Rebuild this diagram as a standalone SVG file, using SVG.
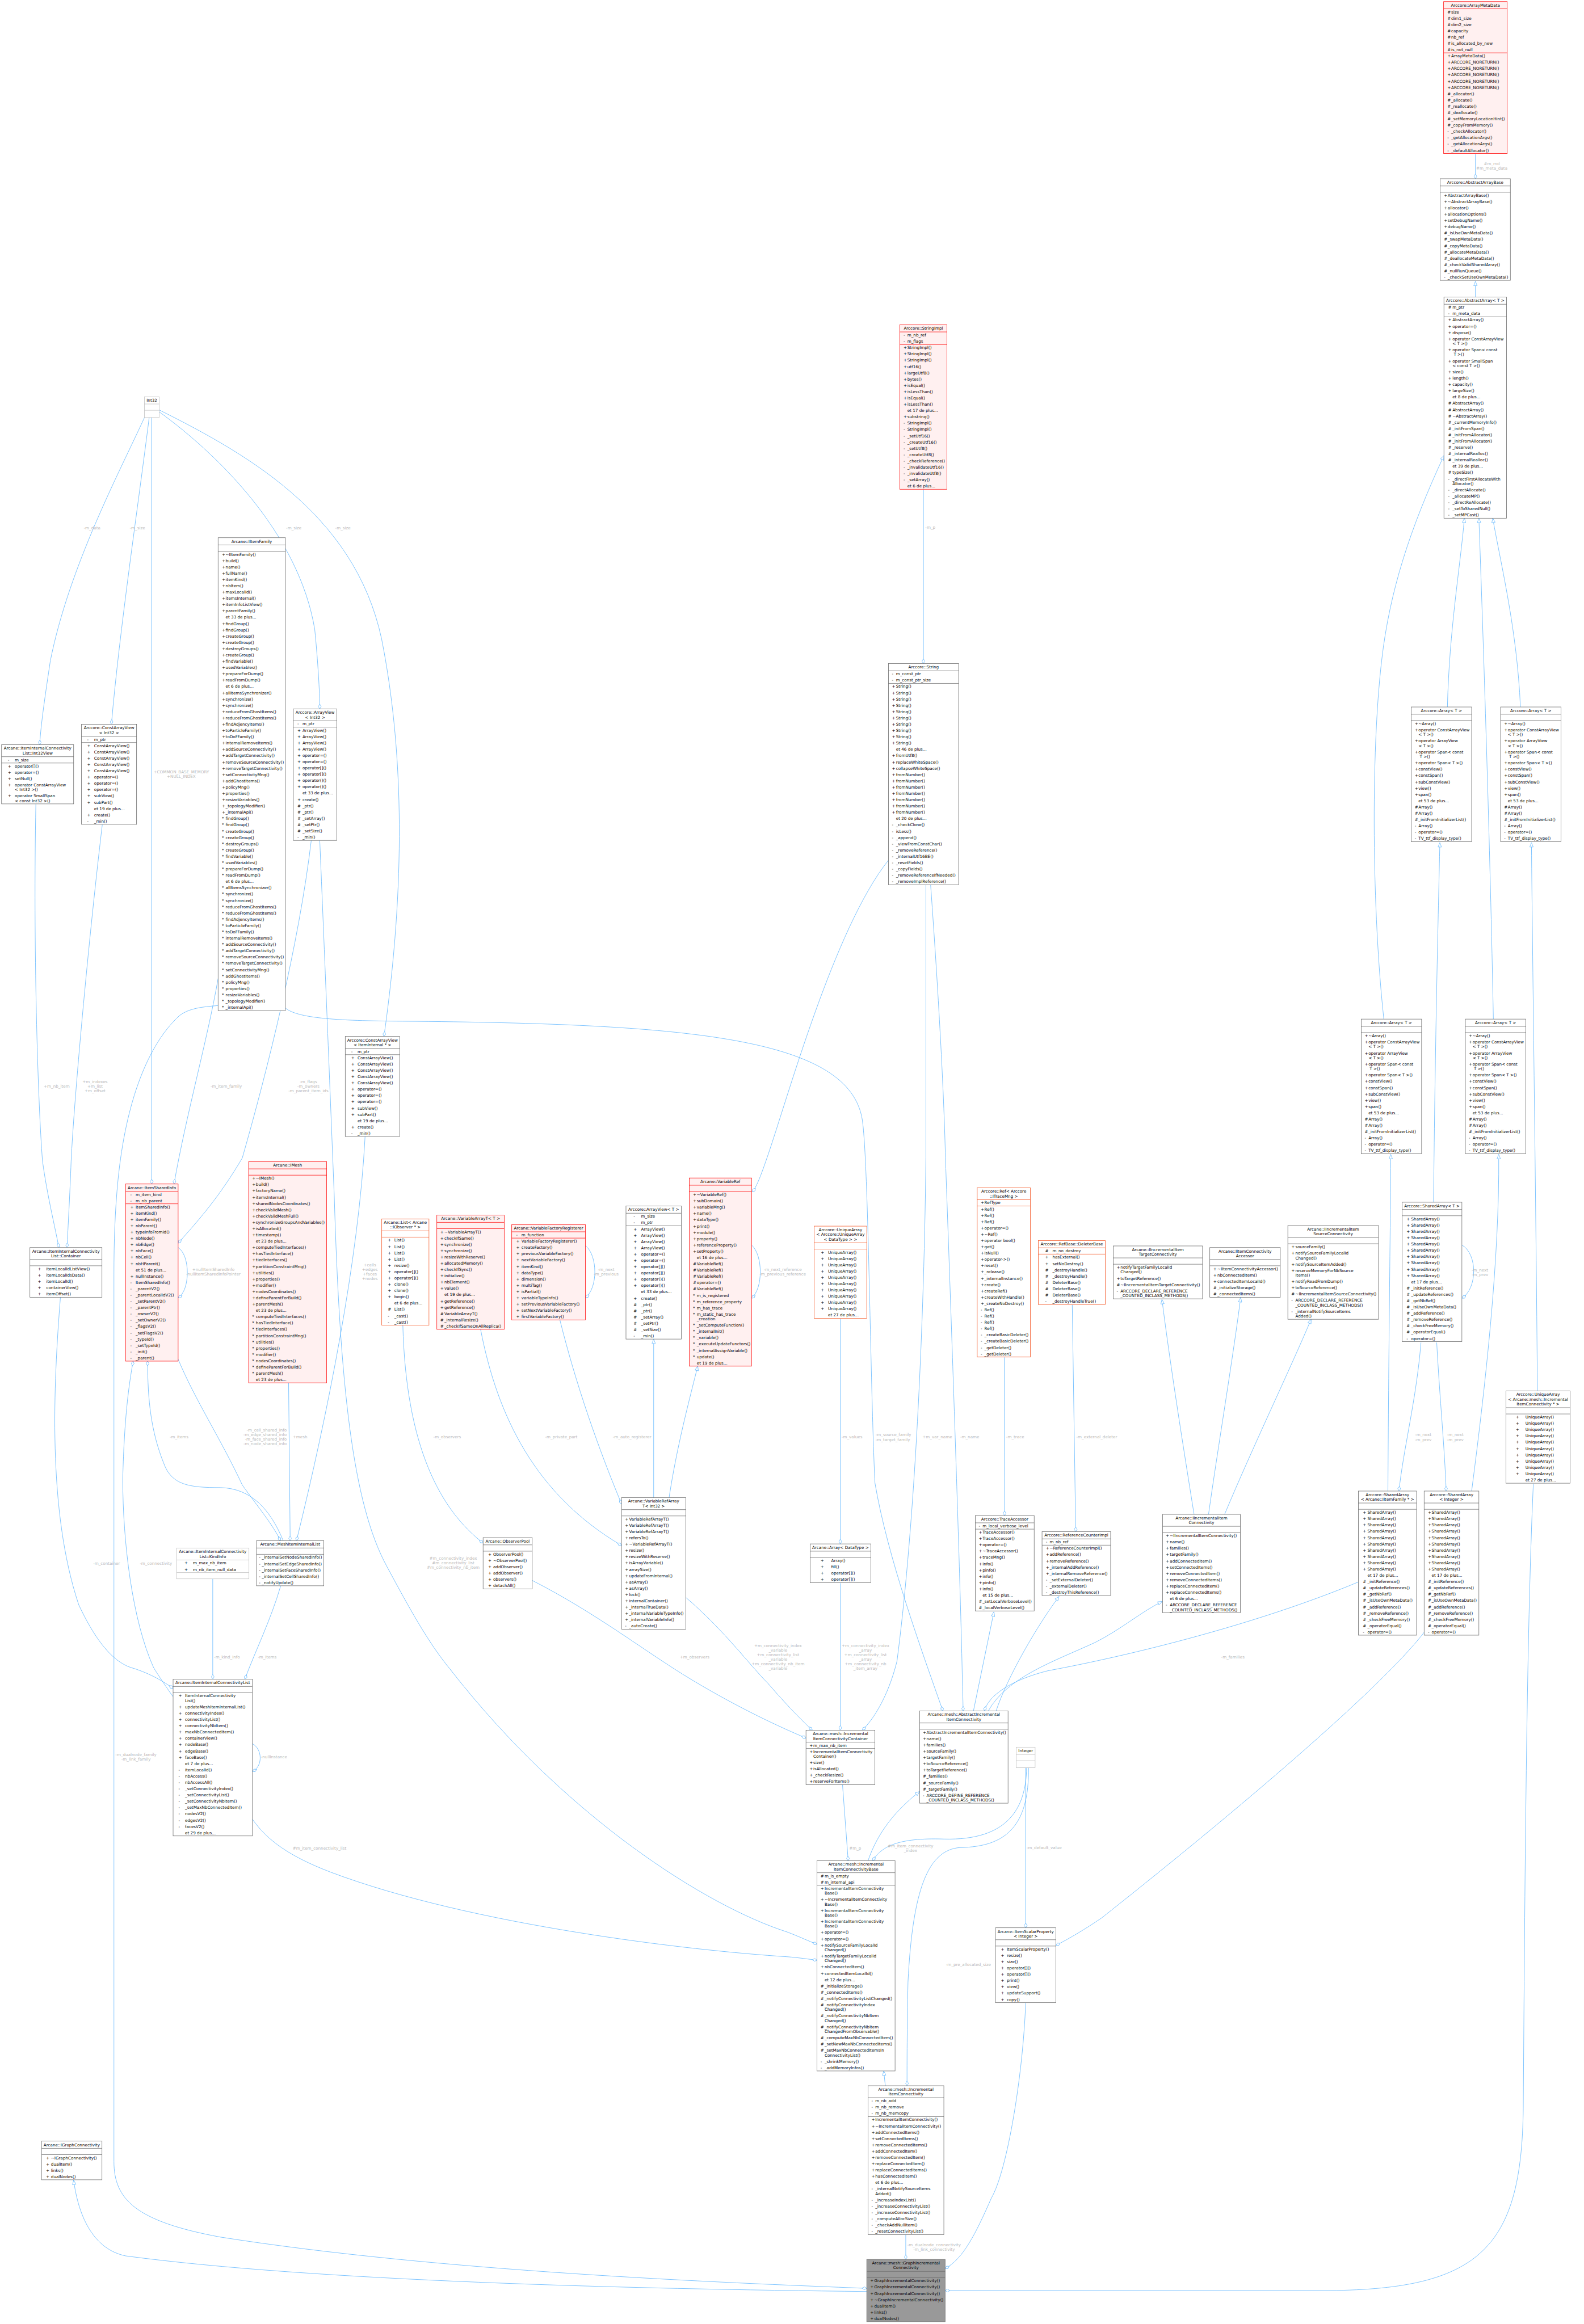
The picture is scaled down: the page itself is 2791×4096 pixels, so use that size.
<svg xmlns="http://www.w3.org/2000/svg" width="2791" height="4096" viewBox="0 0 2791 4096">
<defs>
<style>
.t,.h,.l{font-family:"DejaVu Sans",Verdana,sans-serif;font-size:13px}
.t,.h{fill:#000}
.h,.lc{text-anchor:middle}
.le{text-anchor:end}
.l{fill:#b8b8b8}
.nb rect,.nr rect,.no rect,.ng rect,.nf rect{stroke-width:1.4}
.nb path,.nr path,.no path,.ng path,.nf path{stroke-width:1.4;fill:none}
.nb rect{fill:#fff;stroke:#666}.nb path{stroke:#666}
.nr rect{fill:#fff0f0;stroke:#f00}.nr path{stroke:#f00}
.no rect{fill:#fff;stroke:#f4511e}.no path{stroke:#f4511e}
.ng rect{fill:#fff;stroke:#bfbfbf}.ng path{stroke:#bfbfbf}
.nf rect{fill:#999;stroke:#666}.nf path{stroke:#666}
.e{fill:none;stroke:#63b8ff;stroke-width:1.5}
</style>
<marker id="d" viewBox="-16 -6 17 12" refX="0" refY="0" markerWidth="17" markerHeight="12" markerUnits="userSpaceOnUse" orient="auto"><path d="M0,0L-7.5,-4.5L-15,0L-7.5,4.5Z" fill="#fff" stroke="#63b8ff" stroke-width="1.4"/></marker>
<marker id="tr" viewBox="-16 -7 17 14" refX="0" refY="0" markerWidth="17" markerHeight="14" markerUnits="userSpaceOnUse" orient="auto"><path d="M0,0L-14,-5.5L-14,5.5Z" fill="#fff" stroke="#63b8ff" stroke-width="1.4"/></marker>
</defs>
<rect width="2791" height="4096" fill="#fff"/>
<g transform="scale(0.55454)">
<g id="connectors">
<path class="e" marker-end="url(#d)" d="M4688,490L4688,568"/>
<path class="e" marker-end="url(#tr)" d="M4688,944L4688,894"/>
<path class="e" marker-end="url(#tr)" d="M4599,2247C4605,2000 4640,1800 4653,1647"/>
<path class="e" marker-end="url(#tr)" d="M4745,3239C4735,2700 4712,2000 4699,1647"/>
<path class="e" marker-end="url(#tr)" d="M4831,2247C4820,2000 4770,1800 4743,1647"/>
<path class="e" marker-end="url(#tr)" d="M4397,3239C4360,2900 4355,2400 4390,2100C4415,1880 4480,1680 4588,1448"/>
<path class="e" marker-end="url(#tr)" d="M4555,3821C4560,3300 4570,2900 4575,2678"/>
<path class="e" marker-end="url(#tr)" d="M4410,4739C4412,4300 4418,3900 4419,3669"/>
<path class="e" marker-end="url(#tr)" d="M4676,4739C4720,4400 4765,4000 4762,3669"/>
<path class="e" marker-end="url(#tr)" d="M4885,4421C4880,3800 4870,3100 4866,2678"/>
<path class="e" marker-end="url(#d)" d="M4645,3957C4695,3985 4695,4095 4645,4126"/>
<path class="e" marker-end="url(#d)" d="M4515,4267C4500,4450 4460,4600 4445,4739"/>
<path class="e" marker-end="url(#d)" d="M4565,4267C4575,4450 4590,4600 4595,4739"/>
<path class="e" marker-end="url(#d)" d="M4316,5028C4000,5160 3600,5260 3330,5310C3210,5340 3140,5390 3128,5438"/>
<path class="e" marker-end="url(#tr)" d="M3140,5438C3200,5330 3350,5280 3480,5220C3560,5180 3630,5120 3693,5090"/>
<path class="e" marker-end="url(#tr)" d="M3093,5438L3158,5123"/>
<path class="e" marker-end="url(#tr)" d="M3165,5438C3200,5330 3300,5160 3365,5074"/>
<path class="e" marker-end="url(#tr)" d="M3794,4813C3760,4600 3720,4350 3692,4130"/>
<path class="e" marker-end="url(#tr)" d="M3840,4813C3870,4600 3920,4300 3942,4124"/>
<path class="e" marker-end="url(#tr)" d="M3891,4813C3980,4600 4100,4350 4166,4193"/>
<path class="e" marker-end="url(#d)" d="M2670,4192L2670,4907"/>
<path class="e" marker-end="url(#d)" d="M3191,4314L3192,4817"/>
<path class="e" marker-end="url(#d)" d="M3407,4147L3418,4868"/>
<path class="e" marker-end="url(#d)" d="M2670,5032L2670,5499"/>
<path class="e" marker-end="url(#d)" d="M2942,2813L2942,3680C2935,4300 2900,4900 2850,5280C2820,5400 2770,5470 2740,5499"/>
<path class="e" marker-end="url(#d)" d="M2957,2813C2985,3200 3000,3500 3004,3680C3030,4400 3050,5000 3057,5300C3058,5360 3060,5400 3060,5438"/>
<path class="e" marker-end="url(#d)" d="M2934,1556L2934,2109"/>
<path class="e" marker-end="url(#d)" d="M2823,2734C2650,2950 2500,3500 2437,3680C2420,3730 2405,3770 2391,3788"/>
<path class="e" marker-end="url(#d)" d="M907,3204C950,3240 1100,3245 1320,3246C2200,3255 2700,3300 2740,3560C2760,3700 2765,4400 2780,4713C2820,4950 2930,5250 2996,5438"/>
<path class="e" marker-end="url(#d)" d="M693,3110C660,3300 590,3550 553,3763"/>
<path class="e" marker-end="url(#d)" d="M693,3196C640,3200 600,3205 570,3228C470,3320 400,3500 375,3750C365,3850 362,3950 362,4050L362,6870C362,6990 430,7060 700,7110C1400,7220 2300,7255 2754,7273"/>
<path class="e" marker-end="url(#tr)" d="M2754,7283C2000,7275 1000,7250 400,7170C300,7150 250,7050 234,6929"/>
<path class="e" marker-end="url(#d)" d="M459,1327C380,1500 220,1800 160,2100C145,2200 130,2300 126,2367"/>
<path class="e" marker-end="url(#d)" d="M474,1327C440,1600 380,2000 354,2302"/>
<path class="e" marker-end="url(#d)" d="M482,1327L482,3763"/>
<path class="e" marker-end="url(#d)" d="M506,1309C700,1450 950,1700 1000,2000C1010,2100 1016,2200 1016,2253"/>
<path class="e" marker-end="url(#d)" d="M506,1303C800,1450 1150,1650 1220,2070C1280,2400 1290,2800 1220,3294"/>
<path class="e" marker-end="url(#d)" d="M114,2556C105,3000 120,3500 135,3690C150,3800 175,3900 187,3965"/>
<path class="e" marker-end="url(#d)" d="M325,2621C280,3000 235,3500 226,3690C222,3800 216,3900 213,3965"/>
<path class="e" marker-end="url(#d)" d="M989,2671C950,3000 850,3400 770,3680C700,3800 630,3880 566,3951"/>
<path class="e" marker-end="url(#d)" d="M1016,2671C1030,3000 1050,3500 1062,3800C1080,4400 1120,4780 1230,4980C1300,5110 1360,5220 1430,5305C1800,5780 2250,6060 2500,6140C2540,6155 2570,6170 2596,6179"/>
<path class="e" marker-end="url(#d)" d="M1160,3612C1140,4000 1040,4500 942,4897"/>
<path class="e" marker-end="url(#d)" d="M917,4396L922,4897"/>
<path class="e" marker-end="url(#d)" d="M566,4320C620,4450 700,4570 770,4720C820,4790 870,4850 891,4897"/>
<path class="e" marker-end="url(#d)" d="M900,4897C860,4800 800,4730 700,4728C600,4728 545,4720 520,4650C480,4550 469,4450 469,4326"/>
<path class="e" marker-end="url(#d)" d="M550,5393C520,5350 500,5320 488,5300C420,5150 390,4900 390,4700C395,4500 410,4400 423,4326"/>
<path class="e" marker-end="url(#d)" d="M192,4123C170,4400 150,4800 250,5100C320,5250 380,5290 423,5302C480,5320 520,5345 550,5366"/>
<path class="e" marker-end="url(#d)" d="M892,5040C860,5150 810,5250 778,5337"/>
<path class="e" marker-end="url(#d)" d="M676,5018L676,5337"/>
<path class="e" marker-end="url(#d)" d="M802,5542C835,5560 835,5615 802,5630"/>
<path class="e" marker-end="url(#d)" d="M802,5782C850,5850 920,5900 1050,5950C1500,6120 2200,6200 2500,6219C2540,6222 2570,6227 2596,6230"/>
<path class="e" marker-end="url(#d)" d="M566,3965C605,3990 605,4100 566,4125"/>
<path class="e" marker-end="url(#d)" d="M1280,4212C1290,4600 1400,4800 1535,4904"/>
<path class="e" marker-end="url(#d)" d="M1527,4225C1580,4500 1700,4750 1975,4912"/>
<path class="e" marker-end="url(#d)" d="M1779,4195C1830,4400 1900,4600 1975,4780"/>
<path class="e" marker-end="url(#d)" d="M1860,3959C1900,3990 1900,4095 1860,4124"/>
<path class="e" marker-end="url(#tr)" d="M2077,4760L2077,4256"/>
<path class="e" marker-end="url(#tr)" d="M2126,4760C2150,4600 2190,4450 2217,4342"/>
<path class="e" marker-end="url(#d)" d="M2388,3957C2425,3990 2425,4095 2388,4126"/>
<path class="e" marker-end="url(#d)" d="M2179,5077C2300,5180 2380,5290 2440,5350C2500,5420 2550,5470 2581,5499"/>
<path class="e" marker-end="url(#d)" d="M1691,5023C1900,5130 2050,5250 2200,5340C2350,5430 2480,5490 2561,5524"/>
<path class="e" marker-end="url(#d)" d="M2677,5672L2695,5914"/>
<path class="e" marker-end="url(#tr)" d="M2758,5914C2790,5820 2850,5750 2922,5694"/>
<path class="e" marker-end="url(#d)" d="M3262,5618C3260,5750 3200,5850 3000,5845C2850,5840 2800,5870 2773,5914"/>
<path class="e" marker-end="url(#d)" d="M3259,5618L3259,6127"/>
<path class="e" marker-end="url(#d)" d="M3268,5618C3270,5800 3200,5870 3050,5872C2950,5880 2900,6000 2885,6300C2882,6450 2882,6550 2882,6629"/>
<path class="e" marker-end="url(#tr)" d="M2813,6629L2808,6582"/>
<path class="e" marker-end="url(#d)" d="M4525,5188C4400,5350 4000,5700 3500,6096C3450,6130 3400,6160 3355,6183"/>
<path class="e" marker-end="url(#d)" d="M3259,6366C3250,6600 3200,6900 3150,6986C3100,7100 3060,7180 3003,7210"/>
<path class="e" marker-end="url(#d)" d="M2878,7102L2878,7181"/>
<path class="e" marker-end="url(#d)" d="M4872,4716C4850,5200 4845,6000 4840,6700C4835,7150 4700,7280 4200,7280L3003,7280"/>
<text class="l lc" x="4740" y="524">#m_md<tspan x="4740" dy="14.5">#m_meta_data</tspan></text>
<text class="l" x="4676" y="4041">-m_next<tspan x="4676" dy="14.5">-m_prev</tspan></text>
<text class="l lc" x="4522" y="4565">-m_next<tspan x="4522" dy="14.5">-m_prev</tspan></text>
<text class="l lc" x="4624" y="4565">-m_next<tspan x="4624" dy="14.5">-m_prev</tspan></text>
<text class="l" x="3880" y="5271">-m_families</text>
<text class="l" x="2674" y="4571">-m_values</text>
<text class="l" x="3197" y="4571">-m_trace</text>
<text class="l" x="3420" y="4571">-m_external_deleter</text>
<text class="l lc" x="2750" y="5235">+m_connectivity_index<tspan x="2750" dy="14.5">_array</tspan><tspan x="2750" dy="14.5">+m_connectivity_list</tspan><tspan x="2750" dy="14.5">_array</tspan><tspan x="2750" dy="14.5">+m_connectivity_nb</tspan><tspan x="2750" dy="14.5">_item_array</tspan></text>
<text class="l" x="2931" y="4571">+m_var_name</text>
<text class="l" x="3051" y="4571">-m_name</text>
<text class="l" x="2940" y="1681">-m_p</text>
<text class="l" x="2782" y="4565">-m_source_family<tspan x="2782" dy="14.5">-m_target_family</tspan></text>
<text class="l" x="669" y="3457">-m_item_family</text>
<text class="l lc" x="432" y="5582">-m_dualnode_family<tspan x="432" dy="14.5">-m_link_family</tspan></text>
<text class="l" x="266" y="1682">-m_data</text>
<text class="l" x="412" y="1682">-m_size</text>
<text class="l" x="909" y="1682">-m_size</text>
<text class="l" x="1065" y="1682">-m_size</text>
<text class="l lc" x="576" y="2458">+COMMON_BASE_MEMORY<tspan x="576" dy="14.5">+NULL_INDEX</tspan></text>
<text class="l" x="139" y="3457">+m_nb_item</text>
<text class="l lc" x="302" y="3442">+m_indexes<tspan x="302" dy="14.5">+m_list</tspan><tspan x="302" dy="14.5">+m_offset</tspan></text>
<text class="l lc" x="980" y="3442">-m_flags<tspan x="980" dy="14.5">-m_owners</tspan><tspan x="980" dy="14.5">-m_parent_item_ids</tspan></text>
<text class="l lc" x="1440" y="4958">#m_connectivity_index<tspan x="1440" dy="14.5">#m_connectivity_list</tspan><tspan x="1440" dy="14.5">#m_connectivity_nb_item</tspan></text>
<text class="l lc" x="1175" y="4025">+cells<tspan x="1175" dy="14.5">+edges</tspan><tspan x="1175" dy="14.5">+faces</tspan><tspan x="1175" dy="14.5">+nodes</tspan></text>
<text class="l" x="930" y="4571">+mesh</text>
<text class="l le" x="911" y="4549">-m_cell_shared_info<tspan x="911" dy="14.5">-m_edge_shared_info</tspan><tspan x="911" dy="14.5">-m_face_shared_info</tspan><tspan x="911" dy="14.5">-m_node_shared_info</tspan></text>
<text class="l" x="539" y="4571">-m_items</text>
<text class="l" x="444" y="4973">-m_connectivity</text>
<text class="l" x="296" y="4973">-m_container</text>
<text class="l" x="819" y="5271">-m_items</text>
<text class="l" x="680" y="5271">-m_kind_info</text>
<text class="l" x="829" y="5589">-nullInstance</text>
<text class="l" x="930" y="5879">#m_item_connectivity_list</text>
<text class="l lc" x="678" y="4040">+nullItemSharedInfo<tspan x="678" dy="14.5">-nullItemSharedInfoPointer</tspan></text>
<text class="l" x="1377" y="4571">-m_observers</text>
<text class="l" x="1732" y="4571">-m_private_part</text>
<text class="l" x="1947" y="4571">-m_auto_registerer</text>
<text class="l lc" x="1926" y="4040">-m_next<tspan x="1926" dy="14.5">-m_previous</tspan></text>
<text class="l lc" x="2487" y="4040">-m_next_reference<tspan x="2487" dy="14.5">-m_previous_reference</tspan></text>
<text class="l" x="2160" y="5271">+m_observers</text>
<text class="l lc" x="2472" y="5235">+m_connectivity_index<tspan x="2472" dy="14.5">_variable</tspan><tspan x="2472" dy="14.5">+m_connectivity_list</tspan><tspan x="2472" dy="14.5">_variable</tspan><tspan x="2472" dy="14.5">+m_connectivity_nb_item</tspan><tspan x="2472" dy="14.5">_variable</tspan></text>
<text class="l" x="2698" y="5878">#m_p</text>
<text class="l lc" x="2893" y="5871">#m_item_connectivity<tspan x="2893" dy="14.5">_index</tspan></text>
<text class="l" x="3262" y="5877">-m_default_value</text>
<text class="l lc" x="3077" y="6249">-m_pre_allocated_size</text>
<text class="l lc" x="2968" y="7139">-m_dualnode_connectivity<tspan x="2968" dy="14.5">-m_link_connectivity</tspan></text>
</g>

<g id="nodes">
<g id="n_arraymetadata" class="nr" transform="translate(4587,5)"><rect width="202" height="483"/><path d="M0,23H202M0,163H202"/><text class="h" x="101" y="16">Arccore::ArrayMetaData</text>
<text class="t" y="23"><tspan x="12" dy="14.5">#</tspan><tspan x="24">size</tspan><tspan x="12" dy="20">#</tspan><tspan x="24">dim1_size</tspan><tspan x="12" dy="20">#</tspan><tspan x="24">dim2_size</tspan><tspan x="12" dy="20">#</tspan><tspan x="24">capacity</tspan><tspan x="12" dy="20">#</tspan><tspan x="24">nb_ref</tspan><tspan x="12" dy="20">#</tspan><tspan x="24">is_allocated_by_new</tspan><tspan x="12" dy="20">#</tspan><tspan x="24">is_not_null</tspan></text>
<text class="t" y="163"><tspan x="12" dy="14.5">+</tspan><tspan x="24">ArrayMetaData()</tspan><tspan x="12" dy="20">+</tspan><tspan x="24">ARCCORE_NORETURN()</tspan><tspan x="12" dy="20">+</tspan><tspan x="24">ARCCORE_NORETURN()</tspan><tspan x="12" dy="20">+</tspan><tspan x="24">ARCCORE_NORETURN()</tspan><tspan x="12" dy="20">+</tspan><tspan x="24">ARCCORE_NORETURN()</tspan><tspan x="12" dy="20">+</tspan><tspan x="24">ARCCORE_NORETURN()</tspan><tspan x="12" dy="20">#</tspan><tspan x="24">_allocator()</tspan><tspan x="12" dy="20">#</tspan><tspan x="24">_allocate()</tspan><tspan x="12" dy="20">#</tspan><tspan x="24">_reallocate()</tspan><tspan x="12" dy="20">#</tspan><tspan x="24">_deallocate()</tspan><tspan x="12" dy="20">#</tspan><tspan x="24">_setMemoryLocationHint()</tspan><tspan x="12" dy="20">#</tspan><tspan x="24">_copyFromMemory()</tspan><tspan x="12" dy="20">-</tspan><tspan x="24">_checkAllocator()</tspan><tspan x="12" dy="20">-</tspan><tspan x="24">_getAllocationArgs()</tspan><tspan x="12" dy="20">-</tspan><tspan x="24">_getAllocationArgs()</tspan><tspan x="12" dy="20">-</tspan><tspan x="24">_defaultAllocator()</tspan></text></g>

<g id="n_abstractarraybase" class="nb" transform="translate(4576,568)"><rect width="223" height="323"/><path d="M0,23H223M0,43H223"/><text class="h" x="111.5" y="16">Arccore::AbstractArrayBase</text>
<text class="t" y="43"><tspan x="12" dy="14.5">+</tspan><tspan x="24">AbstractArrayBase()</tspan><tspan x="12" dy="20">+</tspan><tspan x="24">~AbstractArrayBase()</tspan><tspan x="12" dy="20">+</tspan><tspan x="24">allocator()</tspan><tspan x="12" dy="20">+</tspan><tspan x="24">allocationOptions()</tspan><tspan x="12" dy="20">+</tspan><tspan x="24">setDebugName()</tspan><tspan x="12" dy="20">+</tspan><tspan x="24">debugName()</tspan><tspan x="12" dy="20">#</tspan><tspan x="24">_isUseOwnMetaData()</tspan><tspan x="12" dy="20">#</tspan><tspan x="24">_swapMetaData()</tspan><tspan x="12" dy="20">#</tspan><tspan x="24">_copyMetaData()</tspan><tspan x="12" dy="20">#</tspan><tspan x="24">_allocateMetaData()</tspan><tspan x="12" dy="20">#</tspan><tspan x="24">_deallocateMetaData()</tspan><tspan x="12" dy="20">#</tspan><tspan x="24">_checkValidSharedArray()</tspan><tspan x="12" dy="20">#</tspan><tspan x="24">_nullRunQueue()</tspan><tspan x="12" dy="20">-</tspan><tspan x="24">_checkSetUseOwnMetaData()</tspan></text></g>

<g id="n_abstractarray" class="nb" transform="translate(4588,944)"><rect width="199" height="703"/><path d="M0,23H199M0,63H199"/><text class="h" x="99.5" y="16">Arccore::AbstractArray&lt; T &gt;</text>
<text class="t" y="23"><tspan x="13" dy="14.5">#</tspan><tspan x="27">m_ptr</tspan><tspan x="13" dy="20">-</tspan><tspan x="27">m_meta_data</tspan></text>
<text class="t" y="63"><tspan x="13" dy="14.5">+</tspan><tspan x="27">AbstractArray()</tspan><tspan x="13" dy="20">+</tspan><tspan x="27">operator=()</tspan><tspan x="13" dy="20">+</tspan><tspan x="27">dispose()</tspan><tspan x="13" dy="20">+</tspan><tspan x="27">operator ConstArrayView</tspan><tspan x="27" dy="15">&lt; T &gt;()</tspan><tspan x="13" dy="20">+</tspan><tspan x="27">operator Span&lt; const</tspan><tspan x="31" dy="15">T &gt;()</tspan><tspan x="13" dy="20">+</tspan><tspan x="27">operator SmallSpan</tspan><tspan x="27" dy="15">&lt; const T &gt;()</tspan><tspan x="13" dy="20">+</tspan><tspan x="27">size()</tspan><tspan x="13" dy="20">+</tspan><tspan x="27">length()</tspan><tspan x="13" dy="20">+</tspan><tspan x="27">capacity()</tspan><tspan x="13" dy="20">+</tspan><tspan x="27">largeSize()</tspan><tspan x="27" dy="20">et 8 de plus...</tspan><tspan x="13" dy="20">#</tspan><tspan x="27">AbstractArray()</tspan><tspan x="13" dy="20">#</tspan><tspan x="27">AbstractArray()</tspan><tspan x="13" dy="20">#</tspan><tspan x="27">~AbstractArray()</tspan><tspan x="13" dy="20">#</tspan><tspan x="27">_currentMemoryInfo()</tspan><tspan x="13" dy="20">#</tspan><tspan x="27">_initFromSpan()</tspan><tspan x="13" dy="20">#</tspan><tspan x="27">_initFromAllocator()</tspan><tspan x="13" dy="20">#</tspan><tspan x="27">_initFromAllocator()</tspan><tspan x="13" dy="20">#</tspan><tspan x="27">_reserve()</tspan><tspan x="13" dy="20">#</tspan><tspan x="27">_internalRealloc()</tspan><tspan x="13" dy="20">#</tspan><tspan x="27">_internalRealloc()</tspan><tspan x="27" dy="20">et 39 de plus...</tspan><tspan x="13" dy="20">#</tspan><tspan x="27">typeSize()</tspan><tspan x="13" dy="20">-</tspan><tspan x="27">_directFirstAllocateWith</tspan><tspan x="27" dy="15">Allocator()</tspan><tspan x="13" dy="20">-</tspan><tspan x="27">_directAllocate()</tspan><tspan x="13" dy="20">-</tspan><tspan x="27">_allocateMP()</tspan><tspan x="13" dy="20">-</tspan><tspan x="27">_directReAllocate()</tspan><tspan x="13" dy="20">-</tspan><tspan x="27">_setToSharedNull()</tspan><tspan x="13" dy="20">-</tspan><tspan x="27">_setMPCast()</tspan></text></g>

<g id="n_array_a" class="nb" transform="translate(4484,2247)"><rect width="192" height="428"/><path d="M0,23H192M0,43H192"/><text class="h" x="96" y="16">Arccore::Array&lt; T &gt;</text>
<text class="t" y="43"><tspan x="11" dy="14.5">+</tspan><tspan x="23">~Array()</tspan><tspan x="11" dy="20">+</tspan><tspan x="23">operator ConstArrayView</tspan><tspan x="23" dy="15">&lt; T &gt;()</tspan><tspan x="11" dy="20">+</tspan><tspan x="23">operator ArrayView</tspan><tspan x="23" dy="15">&lt; T &gt;()</tspan><tspan x="11" dy="20">+</tspan><tspan x="23">operator Span&lt; const</tspan><tspan x="27" dy="15">T &gt;()</tspan><tspan x="11" dy="20">+</tspan><tspan x="23">operator Span&lt; T &gt;()</tspan><tspan x="11" dy="20">+</tspan><tspan x="23">constView()</tspan><tspan x="11" dy="20">+</tspan><tspan x="23">constSpan()</tspan><tspan x="11" dy="20">+</tspan><tspan x="23">subConstView()</tspan><tspan x="11" dy="20">+</tspan><tspan x="23">view()</tspan><tspan x="11" dy="20">+</tspan><tspan x="23">span()</tspan><tspan x="23" dy="20">et 53 de plus...</tspan><tspan x="11" dy="20">#</tspan><tspan x="23">Array()</tspan><tspan x="11" dy="20">#</tspan><tspan x="23">Array()</tspan><tspan x="11" dy="20">#</tspan><tspan x="23">_initFromInitializerList()</tspan><tspan x="11" dy="20">-</tspan><tspan x="23">Array()</tspan><tspan x="11" dy="20">-</tspan><tspan x="23">operator=()</tspan><tspan x="11" dy="20">-</tspan><tspan x="23">TV_ttf_display_type()</tspan></text></g>

<g id="n_array_b" class="nb" transform="translate(4768,2247)"><rect width="192" height="428"/><path d="M0,23H192M0,43H192"/><text class="h" x="96" y="16">Arccore::Array&lt; T &gt;</text>
<text class="t" y="43"><tspan x="11" dy="14.5">+</tspan><tspan x="23">~Array()</tspan><tspan x="11" dy="20">+</tspan><tspan x="23">operator ConstArrayView</tspan><tspan x="23" dy="15">&lt; T &gt;()</tspan><tspan x="11" dy="20">+</tspan><tspan x="23">operator ArrayView</tspan><tspan x="23" dy="15">&lt; T &gt;()</tspan><tspan x="11" dy="20">+</tspan><tspan x="23">operator Span&lt; const</tspan><tspan x="27" dy="15">T &gt;()</tspan><tspan x="11" dy="20">+</tspan><tspan x="23">operator Span&lt; T &gt;()</tspan><tspan x="11" dy="20">+</tspan><tspan x="23">constView()</tspan><tspan x="11" dy="20">+</tspan><tspan x="23">constSpan()</tspan><tspan x="11" dy="20">+</tspan><tspan x="23">subConstView()</tspan><tspan x="11" dy="20">+</tspan><tspan x="23">view()</tspan><tspan x="11" dy="20">+</tspan><tspan x="23">span()</tspan><tspan x="23" dy="20">et 53 de plus...</tspan><tspan x="11" dy="20">#</tspan><tspan x="23">Array()</tspan><tspan x="11" dy="20">#</tspan><tspan x="23">Array()</tspan><tspan x="11" dy="20">#</tspan><tspan x="23">_initFromInitializerList()</tspan><tspan x="11" dy="20">-</tspan><tspan x="23">Array()</tspan><tspan x="11" dy="20">-</tspan><tspan x="23">operator=()</tspan><tspan x="11" dy="20">-</tspan><tspan x="23">TV_ttf_display_type()</tspan></text></g>

<g id="n_array_c" class="nb" transform="translate(4325,3239)"><rect width="192" height="428"/><path d="M0,23H192M0,43H192"/><text class="h" x="96" y="16">Arccore::Array&lt; T &gt;</text>
<text class="t" y="43"><tspan x="11" dy="14.5">+</tspan><tspan x="23">~Array()</tspan><tspan x="11" dy="20">+</tspan><tspan x="23">operator ConstArrayView</tspan><tspan x="23" dy="15">&lt; T &gt;()</tspan><tspan x="11" dy="20">+</tspan><tspan x="23">operator ArrayView</tspan><tspan x="23" dy="15">&lt; T &gt;()</tspan><tspan x="11" dy="20">+</tspan><tspan x="23">operator Span&lt; const</tspan><tspan x="27" dy="15">T &gt;()</tspan><tspan x="11" dy="20">+</tspan><tspan x="23">operator Span&lt; T &gt;()</tspan><tspan x="11" dy="20">+</tspan><tspan x="23">constView()</tspan><tspan x="11" dy="20">+</tspan><tspan x="23">constSpan()</tspan><tspan x="11" dy="20">+</tspan><tspan x="23">subConstView()</tspan><tspan x="11" dy="20">+</tspan><tspan x="23">view()</tspan><tspan x="11" dy="20">+</tspan><tspan x="23">span()</tspan><tspan x="23" dy="20">et 53 de plus...</tspan><tspan x="11" dy="20">#</tspan><tspan x="23">Array()</tspan><tspan x="11" dy="20">#</tspan><tspan x="23">Array()</tspan><tspan x="11" dy="20">#</tspan><tspan x="23">_initFromInitializerList()</tspan><tspan x="11" dy="20">-</tspan><tspan x="23">Array()</tspan><tspan x="11" dy="20">-</tspan><tspan x="23">operator=()</tspan><tspan x="11" dy="20">-</tspan><tspan x="23">TV_ttf_display_type()</tspan></text></g>

<g id="n_array_d" class="nb" transform="translate(4656,3239)"><rect width="192" height="428"/><path d="M0,23H192M0,43H192"/><text class="h" x="96" y="16">Arccore::Array&lt; T &gt;</text>
<text class="t" y="43"><tspan x="11" dy="14.5">+</tspan><tspan x="23">~Array()</tspan><tspan x="11" dy="20">+</tspan><tspan x="23">operator ConstArrayView</tspan><tspan x="23" dy="15">&lt; T &gt;()</tspan><tspan x="11" dy="20">+</tspan><tspan x="23">operator ArrayView</tspan><tspan x="23" dy="15">&lt; T &gt;()</tspan><tspan x="11" dy="20">+</tspan><tspan x="23">operator Span&lt; const</tspan><tspan x="27" dy="15">T &gt;()</tspan><tspan x="11" dy="20">+</tspan><tspan x="23">operator Span&lt; T &gt;()</tspan><tspan x="11" dy="20">+</tspan><tspan x="23">constView()</tspan><tspan x="11" dy="20">+</tspan><tspan x="23">constSpan()</tspan><tspan x="11" dy="20">+</tspan><tspan x="23">subConstView()</tspan><tspan x="11" dy="20">+</tspan><tspan x="23">view()</tspan><tspan x="11" dy="20">+</tspan><tspan x="23">span()</tspan><tspan x="23" dy="20">et 53 de plus...</tspan><tspan x="11" dy="20">#</tspan><tspan x="23">Array()</tspan><tspan x="11" dy="20">#</tspan><tspan x="23">Array()</tspan><tspan x="11" dy="20">#</tspan><tspan x="23">_initFromInitializerList()</tspan><tspan x="11" dy="20">-</tspan><tspan x="23">Array()</tspan><tspan x="11" dy="20">-</tspan><tspan x="23">operator=()</tspan><tspan x="11" dy="20">-</tspan><tspan x="23">TV_ttf_display_type()</tspan></text></g>

<g id="n_sharedarray_t" class="nb" transform="translate(4455,3821)"><rect width="190" height="443"/><path d="M0,23H190M0,43H190"/><text class="h" x="95" y="16">Arccore::SharedArray&lt; T &gt;</text>
<text class="t" y="43"><tspan x="14" dy="14.5">+</tspan><tspan x="29">SharedArray()</tspan><tspan x="14" dy="20">+</tspan><tspan x="29">SharedArray()</tspan><tspan x="14" dy="20">+</tspan><tspan x="29">SharedArray()</tspan><tspan x="14" dy="20">+</tspan><tspan x="29">SharedArray()</tspan><tspan x="14" dy="20">+</tspan><tspan x="29">SharedArray()</tspan><tspan x="14" dy="20">+</tspan><tspan x="29">SharedArray()</tspan><tspan x="14" dy="20">+</tspan><tspan x="29">SharedArray()</tspan><tspan x="14" dy="20">+</tspan><tspan x="29">SharedArray()</tspan><tspan x="14" dy="20">+</tspan><tspan x="29">SharedArray()</tspan><tspan x="14" dy="20">+</tspan><tspan x="29">SharedArray()</tspan><tspan x="29" dy="20">et 17 de plus...</tspan><tspan x="14" dy="20">#</tspan><tspan x="29">_initReference()</tspan><tspan x="14" dy="20">#</tspan><tspan x="29">_updateReferences()</tspan><tspan x="14" dy="20">#</tspan><tspan x="29">_getNbRef()</tspan><tspan x="14" dy="20">#</tspan><tspan x="29">_isUseOwnMetaData()</tspan><tspan x="14" dy="20">#</tspan><tspan x="29">_addReference()</tspan><tspan x="14" dy="20">#</tspan><tspan x="29">_removeReference()</tspan><tspan x="14" dy="20">#</tspan><tspan x="29">_checkFreeMemory()</tspan><tspan x="14" dy="20">#</tspan><tspan x="29">_operatorEqual()</tspan><tspan x="14" dy="20">-</tspan><tspan x="29">operator=()</tspan></text></g>

<g id="n_sharedarray_family" class="nb" transform="translate(4316,4739)"><rect width="185" height="458"/><path d="M0,38H185M0,58H185"/><text class="h" x="92.5" y="16">Arccore::SharedArray<tspan x="92.5" dy="15">&lt; Arcane::IItemFamily * &gt;</tspan></text>
<text class="t" y="58"><tspan x="14" dy="14.5">+</tspan><tspan x="29">SharedArray()</tspan><tspan x="14" dy="20">+</tspan><tspan x="29">SharedArray()</tspan><tspan x="14" dy="20">+</tspan><tspan x="29">SharedArray()</tspan><tspan x="14" dy="20">+</tspan><tspan x="29">SharedArray()</tspan><tspan x="14" dy="20">+</tspan><tspan x="29">SharedArray()</tspan><tspan x="14" dy="20">+</tspan><tspan x="29">SharedArray()</tspan><tspan x="14" dy="20">+</tspan><tspan x="29">SharedArray()</tspan><tspan x="14" dy="20">+</tspan><tspan x="29">SharedArray()</tspan><tspan x="14" dy="20">+</tspan><tspan x="29">SharedArray()</tspan><tspan x="14" dy="20">+</tspan><tspan x="29">SharedArray()</tspan><tspan x="29" dy="20">et 17 de plus...</tspan><tspan x="14" dy="20">#</tspan><tspan x="29">_initReference()</tspan><tspan x="14" dy="20">#</tspan><tspan x="29">_updateReferences()</tspan><tspan x="14" dy="20">#</tspan><tspan x="29">_getNbRef()</tspan><tspan x="14" dy="20">#</tspan><tspan x="29">_isUseOwnMetaData()</tspan><tspan x="14" dy="20">#</tspan><tspan x="29">_addReference()</tspan><tspan x="14" dy="20">#</tspan><tspan x="29">_removeReference()</tspan><tspan x="14" dy="20">#</tspan><tspan x="29">_checkFreeMemory()</tspan><tspan x="14" dy="20">#</tspan><tspan x="29">_operatorEqual()</tspan><tspan x="14" dy="20">-</tspan><tspan x="29">operator=()</tspan></text></g>

<g id="n_sharedarray_integer" class="nb" transform="translate(4525,4739)"><rect width="174" height="458"/><path d="M0,38H174M0,58H174"/><text class="h" x="87" y="16">Arccore::SharedArray<tspan x="87" dy="15">&lt; Integer &gt;</tspan></text>
<text class="t" y="58"><tspan x="12" dy="14.5">+</tspan><tspan x="24">SharedArray()</tspan><tspan x="12" dy="20">+</tspan><tspan x="24">SharedArray()</tspan><tspan x="12" dy="20">+</tspan><tspan x="24">SharedArray()</tspan><tspan x="12" dy="20">+</tspan><tspan x="24">SharedArray()</tspan><tspan x="12" dy="20">+</tspan><tspan x="24">SharedArray()</tspan><tspan x="12" dy="20">+</tspan><tspan x="24">SharedArray()</tspan><tspan x="12" dy="20">+</tspan><tspan x="24">SharedArray()</tspan><tspan x="12" dy="20">+</tspan><tspan x="24">SharedArray()</tspan><tspan x="12" dy="20">+</tspan><tspan x="24">SharedArray()</tspan><tspan x="12" dy="20">+</tspan><tspan x="24">SharedArray()</tspan><tspan x="24" dy="20">et 17 de plus...</tspan><tspan x="12" dy="20">#</tspan><tspan x="24">_initReference()</tspan><tspan x="12" dy="20">#</tspan><tspan x="24">_updateReferences()</tspan><tspan x="12" dy="20">#</tspan><tspan x="24">_getNbRef()</tspan><tspan x="12" dy="20">#</tspan><tspan x="24">_isUseOwnMetaData()</tspan><tspan x="12" dy="20">#</tspan><tspan x="24">_addReference()</tspan><tspan x="12" dy="20">#</tspan><tspan x="24">_removeReference()</tspan><tspan x="12" dy="20">#</tspan><tspan x="24">_checkFreeMemory()</tspan><tspan x="12" dy="20">#</tspan><tspan x="24">_operatorEqual()</tspan><tspan x="12" dy="20">-</tspan><tspan x="24">operator=()</tspan></text></g>

<g id="n_uniquearray_conn" class="nb" transform="translate(4785,4421)"><rect width="204" height="293"/><path d="M0,53H204M0,73H204"/><text class="h" x="102" y="16">Arccore::UniqueArray<tspan x="102" dy="15">&lt; Arcane::mesh::Incremental</tspan><tspan x="102" dy="15">ItemConnectivity * &gt;</tspan></text>
<text class="t" y="73"><tspan x="31" dy="14.5">+</tspan><tspan x="62">UniqueArray()</tspan><tspan x="31" dy="20">+</tspan><tspan x="62">UniqueArray()</tspan><tspan x="31" dy="20">+</tspan><tspan x="62">UniqueArray()</tspan><tspan x="31" dy="20">+</tspan><tspan x="62">UniqueArray()</tspan><tspan x="31" dy="20">+</tspan><tspan x="62">UniqueArray()</tspan><tspan x="31" dy="20">+</tspan><tspan x="62">UniqueArray()</tspan><tspan x="31" dy="20">+</tspan><tspan x="62">UniqueArray()</tspan><tspan x="31" dy="20">+</tspan><tspan x="62">UniqueArray()</tspan><tspan x="31" dy="20">+</tspan><tspan x="62">UniqueArray()</tspan><tspan x="31" dy="20">+</tspan><tspan x="62">UniqueArray()</tspan><tspan x="62" dy="20">et 27 de plus...</tspan></text></g>

<g id="n_iincsource" class="nb" transform="translate(4092,3895)"><rect width="288" height="298"/><path d="M0,38H288M0,58H288"/><text class="h" x="144" y="16">Arcane::IIncrementalItem<tspan x="144" dy="15">SourceConnectivity</tspan></text>
<text class="t" y="58"><tspan x="11" dy="14.5">+</tspan><tspan x="24">sourceFamily()</tspan><tspan x="11" dy="20">+</tspan><tspan x="24">notifySourceFamilyLocalId</tspan><tspan x="24" dy="15">Changed()</tspan><tspan x="11" dy="20">+</tspan><tspan x="24">notifySourceItemAdded()</tspan><tspan x="11" dy="20">+</tspan><tspan x="24">reserveMemoryForNbSource</tspan><tspan x="24" dy="15">Items()</tspan><tspan x="11" dy="20">+</tspan><tspan x="24">notifyReadFromDump()</tspan><tspan x="11" dy="20">+</tspan><tspan x="24">toSourceReference()</tspan><tspan x="11" dy="20">#</tspan><tspan x="24">~IIncrementalItemSourceConnectivity()</tspan><tspan x="11" dy="20">-</tspan><tspan x="24">ARCCORE_DECLARE_REFERENCE</tspan><tspan x="24" dy="15">_COUNTED_INCLASS_METHODS()</tspan><tspan x="11" dy="20">-</tspan><tspan x="24">_internalNotifySourceItems</tspan><tspan x="24" dy="15">Added()</tspan></text></g>

<g id="n_iitemconnaccessor" class="nb" transform="translate(3844,3965)"><rect width="224" height="158"/><path d="M0,38H224M0,58H224"/><text class="h" x="112" y="16">Arcane::IItemConnectivity<tspan x="112" dy="15">Accessor</tspan></text>
<text class="t" y="58"><tspan x="11" dy="14.5">+</tspan><tspan x="24">~IItemConnectivityAccessor()</tspan><tspan x="11" dy="20">+</tspan><tspan x="24">nbConnectedItem()</tspan><tspan x="11" dy="20">+</tspan><tspan x="24">connectedItemLocalId()</tspan><tspan x="11" dy="20">#</tspan><tspan x="24">_initializeStorage()</tspan><tspan x="11" dy="20">#</tspan><tspan x="24">_connectedItems()</tspan></text></g>

<g id="n_iinctarget" class="nb" transform="translate(3537,3960)"><rect width="284" height="168"/><path d="M0,38H284M0,58H284"/><text class="h" x="142" y="16">Arcane::IIncrementalItem<tspan x="142" dy="15">TargetConnectivity</tspan></text>
<text class="t" y="58"><tspan x="11" dy="14.5">+</tspan><tspan x="23">notifyTargetFamilyLocalId</tspan><tspan x="23" dy="15">Changed()</tspan><tspan x="11" dy="20">+</tspan><tspan x="23">toTargetReference()</tspan><tspan x="11" dy="20">#</tspan><tspan x="23">~IIncrementalItemTargetConnectivity()</tspan><tspan x="11" dy="20">-</tspan><tspan x="23">ARCCORE_DECLARE_REFERENCE</tspan><tspan x="23" dy="15">_COUNTED_INCLASS_METHODS()</tspan></text></g>

<g id="n_iincconn" class="nb" transform="translate(3694,4813)"><rect width="247" height="313"/><path d="M0,38H247M0,58H247"/><text class="h" x="123.5" y="16">Arcane::IIncrementalItem<tspan x="123.5" dy="15">Connectivity</tspan></text>
<text class="t" y="58"><tspan x="10" dy="14.5">+</tspan><tspan x="23">~IIncrementalItemConnectivity()</tspan><tspan x="10" dy="20">+</tspan><tspan x="23">name()</tspan><tspan x="10" dy="20">+</tspan><tspan x="23">families()</tspan><tspan x="10" dy="20">+</tspan><tspan x="23">targetFamily()</tspan><tspan x="10" dy="20">+</tspan><tspan x="23">addConnectedItem()</tspan><tspan x="10" dy="20">+</tspan><tspan x="23">setConnectedItems()</tspan><tspan x="10" dy="20">+</tspan><tspan x="23">removeConnectedItem()</tspan><tspan x="10" dy="20">+</tspan><tspan x="23">removeConnectedItems()</tspan><tspan x="10" dy="20">+</tspan><tspan x="23">replaceConnectedItem()</tspan><tspan x="10" dy="20">+</tspan><tspan x="23">replaceConnectedItems()</tspan><tspan x="23" dy="20">et 6 de plus...</tspan><tspan x="10" dy="20">-</tspan><tspan x="23">ARCCORE_DECLARE_REFERENCE</tspan><tspan x="23" dy="15">_COUNTED_INCLASS_METHODS()</tspan></text></g>

<g id="n_ref" class="no" transform="translate(3105,3775)"><rect width="169" height="538"/><path d="M0,38H169M0,58H169"/><text class="h" x="84.5" y="16">Arccore::Ref&lt; Arccore<tspan x="84.5" dy="15">::ITraceMng &gt;</tspan></text>
<text class="t" y="38"><tspan x="11" dy="14.5">+</tspan><tspan x="23">RefType</tspan></text>
<text class="t" y="58"><tspan x="11" dy="14.5">+</tspan><tspan x="23">Ref()</tspan><tspan x="11" dy="20">+</tspan><tspan x="23">Ref()</tspan><tspan x="11" dy="20">+</tspan><tspan x="23">Ref()</tspan><tspan x="11" dy="20">+</tspan><tspan x="23">operator=()</tspan><tspan x="11" dy="20">+</tspan><tspan x="23">~Ref()</tspan><tspan x="11" dy="20">+</tspan><tspan x="23">operator bool()</tspan><tspan x="11" dy="20">+</tspan><tspan x="23">get()</tspan><tspan x="11" dy="20">+</tspan><tspan x="23">isNull()</tspan><tspan x="11" dy="20">+</tspan><tspan x="23">operator-&gt;()</tspan><tspan x="11" dy="20">+</tspan><tspan x="23">reset()</tspan><tspan x="11" dy="20">+</tspan><tspan x="23">_release()</tspan><tspan x="11" dy="20">+</tspan><tspan x="23">_internalInstance()</tspan><tspan x="11" dy="20">+</tspan><tspan x="23">create()</tspan><tspan x="11" dy="20">+</tspan><tspan x="23">createRef()</tspan><tspan x="11" dy="20">+</tspan><tspan x="23">createWithHandle()</tspan><tspan x="11" dy="20">+</tspan><tspan x="23">_createNoDestroy()</tspan><tspan x="11" dy="20">-</tspan><tspan x="23">Ref()</tspan><tspan x="11" dy="20">-</tspan><tspan x="23">Ref()</tspan><tspan x="11" dy="20">-</tspan><tspan x="23">Ref()</tspan><tspan x="11" dy="20">-</tspan><tspan x="23">Ref()</tspan><tspan x="11" dy="20">-</tspan><tspan x="23">_createBasicDeleter()</tspan><tspan x="11" dy="20">-</tspan><tspan x="23">_createBasicDeleter()</tspan><tspan x="11" dy="20">-</tspan><tspan x="23">_getDeleter()</tspan><tspan x="11" dy="20">-</tspan><tspan x="23">_getDeleter()</tspan></text></g>

<g id="n_deleterbase" class="no" transform="translate(3299,3943)"><rect width="213" height="203"/><path d="M0,23H213M0,43H213"/><text class="h" x="106.5" y="16">Arccore::RefBase::DeleterBase</text>
<text class="t" y="23"><tspan x="22" dy="14.5">#</tspan><tspan x="45">m_no_destroy</tspan></text>
<text class="t" y="43"><tspan x="22" dy="14.5">+</tspan><tspan x="45">hasExternal()</tspan><tspan x="22" dy="20">+</tspan><tspan x="45">setNoDestroy()</tspan><tspan x="22" dy="20">#</tspan><tspan x="45">_destroyHandle()</tspan><tspan x="22" dy="20">#</tspan><tspan x="45">_destroyHandle()</tspan><tspan x="22" dy="20">#</tspan><tspan x="45">DeleterBase()</tspan><tspan x="22" dy="20">#</tspan><tspan x="45">DeleterBase()</tspan><tspan x="22" dy="20">#</tspan><tspan x="45">DeleterBase()</tspan><tspan x="22" dy="20">-</tspan><tspan x="45">_destroyHandleTrue()</tspan></text></g>

<g id="n_traceaccessor" class="nb" transform="translate(3099,4817)"><rect width="187" height="303"/><path d="M0,23H187M0,43H187"/><text class="h" x="93.5" y="16">Arccore::TraceAccessor</text>
<text class="t" y="23"><tspan x="11" dy="14.5">-</tspan><tspan x="23">m_local_verbose_level</tspan></text>
<text class="t" y="43"><tspan x="11" dy="14.5">+</tspan><tspan x="23">TraceAccessor()</tspan><tspan x="11" dy="20">+</tspan><tspan x="23">TraceAccessor()</tspan><tspan x="11" dy="20">+</tspan><tspan x="23">operator=()</tspan><tspan x="11" dy="20">+</tspan><tspan x="23">~TraceAccessor()</tspan><tspan x="11" dy="20">+</tspan><tspan x="23">traceMng()</tspan><tspan x="11" dy="20">+</tspan><tspan x="23">info()</tspan><tspan x="11" dy="20">+</tspan><tspan x="23">pinfo()</tspan><tspan x="11" dy="20">+</tspan><tspan x="23">info()</tspan><tspan x="11" dy="20">+</tspan><tspan x="23">pinfo()</tspan><tspan x="11" dy="20">+</tspan><tspan x="23">info()</tspan><tspan x="23" dy="20">et 15 de plus...</tspan><tspan x="11" dy="20">#</tspan><tspan x="23">_setLocalVerboseLevel()</tspan><tspan x="11" dy="20">#</tspan><tspan x="23">_localVerboseLevel()</tspan></text></g>

<g id="n_refcounterimpl" class="nb" transform="translate(3311,4868)"><rect width="218" height="203"/><path d="M0,23H218M0,43H218"/><text class="h" x="109" y="16">Arccore::ReferenceCounterImpl</text>
<text class="t" y="23"><tspan x="12" dy="14.5">-</tspan><tspan x="24">m_nb_ref</tspan></text>
<text class="t" y="43"><tspan x="12" dy="14.5">+</tspan><tspan x="24">~ReferenceCounterImpl()</tspan><tspan x="12" dy="20">+</tspan><tspan x="24">addReference()</tspan><tspan x="12" dy="20">+</tspan><tspan x="24">removeReference()</tspan><tspan x="12" dy="20">+</tspan><tspan x="24">_internalAddReference()</tspan><tspan x="12" dy="20">+</tspan><tspan x="24">_internalRemoveReference()</tspan><tspan x="12" dy="20">-</tspan><tspan x="24">_setExternalDeleter()</tspan><tspan x="12" dy="20">-</tspan><tspan x="24">_externalDeleter()</tspan><tspan x="12" dy="20">-</tspan><tspan x="24">_destroyThisReference()</tspan></text></g>

<g id="n_uniquearray_dt" class="no" transform="translate(2587,3897)"><rect width="167" height="293"/><path d="M0,53H167M0,73H167"/><text class="h" x="83.5" y="16">Arccore::UniqueArray<tspan x="83.5" dy="15">&lt; Arccore::UniqueArray</tspan><tspan x="83.5" dy="15">&lt; DataType &gt; &gt;</tspan></text>
<text class="t" y="73"><tspan x="21" dy="14.5">+</tspan><tspan x="44">UniqueArray()</tspan><tspan x="21" dy="20">+</tspan><tspan x="44">UniqueArray()</tspan><tspan x="21" dy="20">+</tspan><tspan x="44">UniqueArray()</tspan><tspan x="21" dy="20">+</tspan><tspan x="44">UniqueArray()</tspan><tspan x="21" dy="20">+</tspan><tspan x="44">UniqueArray()</tspan><tspan x="21" dy="20">+</tspan><tspan x="44">UniqueArray()</tspan><tspan x="21" dy="20">+</tspan><tspan x="44">UniqueArray()</tspan><tspan x="21" dy="20">+</tspan><tspan x="44">UniqueArray()</tspan><tspan x="21" dy="20">+</tspan><tspan x="44">UniqueArray()</tspan><tspan x="21" dy="20">+</tspan><tspan x="44">UniqueArray()</tspan><tspan x="44" dy="20">et 27 de plus...</tspan></text></g>

<g id="n_array_datatype" class="nb" transform="translate(2574,4907)"><rect width="193" height="123"/><path d="M0,23H193M0,43H193"/><text class="h" x="96.5" y="16">Arcane::Array&lt; DataType &gt;</text>
<text class="t" y="43"><tspan x="33" dy="14.5">+</tspan><tspan x="67">Array()</tspan><tspan x="33" dy="20">+</tspan><tspan x="67">fill()</tspan><tspan x="33" dy="20">+</tspan><tspan x="67">operator[]()</tspan><tspan x="33" dy="20">+</tspan><tspan x="67">operator[]()</tspan></text></g>

<g id="n_inccontainer" class="nb" transform="translate(2561,5499)"><rect width="219" height="173"/><path d="M0,38H219M0,58H219"/><text class="h" x="109.5" y="16">Arcane::mesh::Incremental<tspan x="109.5" dy="15">ItemConnectivityContainer</tspan></text>
<text class="t" y="38"><tspan x="11" dy="14.5">+</tspan><tspan x="23">m_max_nb_item</tspan></text>
<text class="t" y="58"><tspan x="11" dy="14.5">+</tspan><tspan x="23">IncrementalItemConnectivity</tspan><tspan x="23" dy="15">Container()</tspan><tspan x="11" dy="20">+</tspan><tspan x="23">size()</tspan><tspan x="11" dy="20">+</tspan><tspan x="23">isAllocated()</tspan><tspan x="11" dy="20">+</tspan><tspan x="23">_checkResize()</tspan><tspan x="11" dy="20">+</tspan><tspan x="23">reserveForItems()</tspan></text></g>

<g id="n_abstractincconn" class="nb" transform="translate(2922,5438)"><rect width="281" height="293"/><path d="M0,38H281M0,58H281"/><text class="h" x="140.5" y="16">Arcane::mesh::AbstractIncremental<tspan x="140.5" dy="15">ItemConnectivity</tspan></text>
<text class="t" y="58"><tspan x="10" dy="14.5">+</tspan><tspan x="22">AbstractIncrementalItemConnectivity()</tspan><tspan x="10" dy="20">+</tspan><tspan x="22">name()</tspan><tspan x="10" dy="20">+</tspan><tspan x="22">families()</tspan><tspan x="10" dy="20">+</tspan><tspan x="22">sourceFamily()</tspan><tspan x="10" dy="20">+</tspan><tspan x="22">targetFamily()</tspan><tspan x="10" dy="20">+</tspan><tspan x="22">toSourceReference()</tspan><tspan x="10" dy="20">+</tspan><tspan x="22">toTargetReference()</tspan><tspan x="10" dy="20">#</tspan><tspan x="22">_families()</tspan><tspan x="10" dy="20">#</tspan><tspan x="22">_sourceFamily()</tspan><tspan x="10" dy="20">#</tspan><tspan x="22">_targetFamily()</tspan><tspan x="10" dy="20">-</tspan><tspan x="22">ARCCORE_DEFINE_REFERENCE</tspan><tspan x="22" dy="15">_COUNTED_INCLASS_METHODS()</tspan></text></g>

<g id="n_integer" class="ng" transform="translate(3229,5553)"><rect width="60" height="65"/><path d="M0,23H60M0,43H60"/><text class="h" x="30" y="16">Integer</text></g>

<g id="n_incconnbase" class="nb" transform="translate(2596,5914)"><rect width="248" height="668"/><path d="M0,38H248M0,78H248"/><text class="h" x="124" y="16">Arcane::mesh::Incremental<tspan x="124" dy="15">ItemConnectivityBase</tspan></text>
<text class="t" y="38"><tspan x="11" dy="14.5">#</tspan><tspan x="24">m_is_empty</tspan><tspan x="11" dy="20">#</tspan><tspan x="24">m_internal_api</tspan></text>
<text class="t" y="78"><tspan x="11" dy="14.5">+</tspan><tspan x="24">IncrementalItemConnectivity</tspan><tspan x="24" dy="15">Base()</tspan><tspan x="11" dy="20">+</tspan><tspan x="24">~IncrementalItemConnectivity</tspan><tspan x="24" dy="15">Base()</tspan><tspan x="11" dy="20">+</tspan><tspan x="24">IncrementalItemConnectivity</tspan><tspan x="24" dy="15">Base()</tspan><tspan x="11" dy="20">+</tspan><tspan x="24">IncrementalItemConnectivity</tspan><tspan x="24" dy="15">Base()</tspan><tspan x="11" dy="20">+</tspan><tspan x="24">operator=()</tspan><tspan x="11" dy="20">+</tspan><tspan x="24">operator=()</tspan><tspan x="11" dy="20">+</tspan><tspan x="24">notifySourceFamilyLocalId</tspan><tspan x="24" dy="15">Changed()</tspan><tspan x="11" dy="20">+</tspan><tspan x="24">notifyTargetFamilyLocalId</tspan><tspan x="24" dy="15">Changed()</tspan><tspan x="11" dy="20">+</tspan><tspan x="24">nbConnectedItem()</tspan><tspan x="11" dy="20">+</tspan><tspan x="24">connectedItemLocalId()</tspan><tspan x="24" dy="20">et 12 de plus...</tspan><tspan x="11" dy="20">#</tspan><tspan x="24">_initializeStorage()</tspan><tspan x="11" dy="20">#</tspan><tspan x="24">_connectedItems()</tspan><tspan x="11" dy="20">#</tspan><tspan x="24">_notifyConnectivityListChanged()</tspan><tspan x="11" dy="20">#</tspan><tspan x="24">_notifyConnectivityIndex</tspan><tspan x="24" dy="15">Changed()</tspan><tspan x="11" dy="20">#</tspan><tspan x="24">_notifyConnectivityNbItem</tspan><tspan x="24" dy="15">Changed()</tspan><tspan x="11" dy="20">#</tspan><tspan x="24">_notifyConnectivityNbItem</tspan><tspan x="24" dy="15">ChangedFromObservable()</tspan><tspan x="11" dy="20">#</tspan><tspan x="24">_computeMaxNbConnectedItem()</tspan><tspan x="11" dy="20">#</tspan><tspan x="24">_setNewMaxNbConnectedItems()</tspan><tspan x="11" dy="20">#</tspan><tspan x="24">_setMaxNbConnectedItemsIn</tspan><tspan x="24" dy="15">ConnectivityList()</tspan><tspan x="11" dy="20">-</tspan><tspan x="24">_shrinkMemory()</tspan><tspan x="11" dy="20">-</tspan><tspan x="24">_addMemoryInfos()</tspan></text></g>

<g id="n_itemscalarproperty" class="nb" transform="translate(3163,6127)"><rect width="192" height="238"/><path d="M0,38H192M0,58H192"/><text class="h" x="96" y="16">Arcane::ItemScalarProperty<tspan x="96" dy="15">&lt; Integer &gt;</tspan></text>
<text class="t" y="58"><tspan x="17" dy="14.5">+</tspan><tspan x="36">ItemScalarProperty()</tspan><tspan x="17" dy="20">+</tspan><tspan x="36">resize()</tspan><tspan x="17" dy="20">+</tspan><tspan x="36">size()</tspan><tspan x="17" dy="20">+</tspan><tspan x="36">operator[]()</tspan><tspan x="17" dy="20">+</tspan><tspan x="36">operator[]()</tspan><tspan x="17" dy="20">+</tspan><tspan x="36">print()</tspan><tspan x="17" dy="20">+</tspan><tspan x="36">view()</tspan><tspan x="17" dy="20">+</tspan><tspan x="36">updateSupport()</tspan><tspan x="17" dy="20">+</tspan><tspan x="36">copy()</tspan></text></g>

<g id="n_incconn" class="nb" transform="translate(2758,6629)"><rect width="241" height="473"/><path d="M0,38H241M0,98H241"/><text class="h" x="120.5" y="16">Arcane::mesh::Incremental<tspan x="120.5" dy="15">ItemConnectivity</tspan></text>
<text class="t" y="38"><tspan x="11" dy="14.5">-</tspan><tspan x="23">m_nb_add</tspan><tspan x="11" dy="20">-</tspan><tspan x="23">m_nb_remove</tspan><tspan x="11" dy="20">-</tspan><tspan x="23">m_nb_memcopy</tspan></text>
<text class="t" y="98"><tspan x="11" dy="14.5">+</tspan><tspan x="23">IncrementalItemConnectivity()</tspan><tspan x="11" dy="20">+</tspan><tspan x="23">~IncrementalItemConnectivity()</tspan><tspan x="11" dy="20">+</tspan><tspan x="23">addConnectedItems()</tspan><tspan x="11" dy="20">+</tspan><tspan x="23">setConnectedItems()</tspan><tspan x="11" dy="20">+</tspan><tspan x="23">removeConnectedItems()</tspan><tspan x="11" dy="20">+</tspan><tspan x="23">addConnectedItem()</tspan><tspan x="11" dy="20">+</tspan><tspan x="23">removeConnectedItem()</tspan><tspan x="11" dy="20">+</tspan><tspan x="23">replaceConnectedItem()</tspan><tspan x="11" dy="20">+</tspan><tspan x="23">replaceConnectedItems()</tspan><tspan x="11" dy="20">+</tspan><tspan x="23">hasConnectedItem()</tspan><tspan x="23" dy="20">et 6 de plus...</tspan><tspan x="11" dy="20">-</tspan><tspan x="23">_internalNotifySourceItems</tspan><tspan x="23" dy="15">Added()</tspan><tspan x="11" dy="20">-</tspan><tspan x="23">_increaseIndexList()</tspan><tspan x="11" dy="20">-</tspan><tspan x="23">_increaseConnectivityList()</tspan><tspan x="11" dy="20">-</tspan><tspan x="23">_increaseConnectivityList()</tspan><tspan x="11" dy="20">-</tspan><tspan x="23">_computeAllocSize()</tspan><tspan x="11" dy="20">-</tspan><tspan x="23">_checkAddNullItem()</tspan><tspan x="11" dy="20">-</tspan><tspan x="23">_resetConnectivityList()</tspan></text></g>

<g id="n_graphincconn" class="nf" transform="translate(2754,7181)"><rect width="249" height="198"/><path d="M0,38H249M0,58H249"/><text class="h" x="124.5" y="16">Arcane::mesh::GraphIncremental<tspan x="124.5" dy="15">Connectivity</tspan></text>
<text class="t" y="58"><tspan x="11" dy="14.5">+</tspan><tspan x="24">GraphIncrementalConnectivity()</tspan><tspan x="11" dy="20">+</tspan><tspan x="24">GraphIncrementalConnectivity()</tspan><tspan x="11" dy="20">+</tspan><tspan x="24">GraphIncrementalConnectivity()</tspan><tspan x="11" dy="20">+</tspan><tspan x="24">~GraphIncrementalConnectivity()</tspan><tspan x="11" dy="20">+</tspan><tspan x="24">dualItem()</tspan><tspan x="11" dy="20">+</tspan><tspan x="24">links()</tspan><tspan x="11" dy="20">+</tspan><tspan x="24">dualNodes()</tspan></text></g>

<g id="n_stringimpl" class="nr" transform="translate(2859,1032)"><rect width="150" height="523"/><path d="M0,23H150M0,63H150"/><text class="h" x="75" y="16">Arccore::StringImpl</text>
<text class="t" y="23"><tspan x="12" dy="14.5">-</tspan><tspan x="24">m_nb_ref</tspan><tspan x="12" dy="20">-</tspan><tspan x="24">m_flags</tspan></text>
<text class="t" y="63"><tspan x="12" dy="14.5">+</tspan><tspan x="24">StringImpl()</tspan><tspan x="12" dy="20">+</tspan><tspan x="24">StringImpl()</tspan><tspan x="12" dy="20">+</tspan><tspan x="24">StringImpl()</tspan><tspan x="12" dy="20">+</tspan><tspan x="24">utf16()</tspan><tspan x="12" dy="20">+</tspan><tspan x="24">largeUtf8()</tspan><tspan x="12" dy="20">+</tspan><tspan x="24">bytes()</tspan><tspan x="12" dy="20">+</tspan><tspan x="24">isEqual()</tspan><tspan x="12" dy="20">+</tspan><tspan x="24">isLessThan()</tspan><tspan x="12" dy="20">+</tspan><tspan x="24">isEqual()</tspan><tspan x="12" dy="20">+</tspan><tspan x="24">isLessThan()</tspan><tspan x="24" dy="20">et 17 de plus...</tspan><tspan x="12" dy="20">+</tspan><tspan x="24">substring()</tspan><tspan x="12" dy="20">-</tspan><tspan x="24">StringImpl()</tspan><tspan x="12" dy="20">-</tspan><tspan x="24">StringImpl()</tspan><tspan x="12" dy="20">-</tspan><tspan x="24">_setUtf16()</tspan><tspan x="12" dy="20">-</tspan><tspan x="24">_createUtf16()</tspan><tspan x="12" dy="20">-</tspan><tspan x="24">_setUtf8()</tspan><tspan x="12" dy="20">-</tspan><tspan x="24">_createUtf8()</tspan><tspan x="12" dy="20">-</tspan><tspan x="24">_checkReference()</tspan><tspan x="12" dy="20">-</tspan><tspan x="24">_invalidateUtf16()</tspan><tspan x="12" dy="20">-</tspan><tspan x="24">_invalidateUtf8()</tspan><tspan x="12" dy="20">-</tspan><tspan x="24">_setArray()</tspan><tspan x="24" dy="20">et 6 de plus...</tspan></text></g>

<g id="n_string" class="nb" transform="translate(2823,2109)"><rect width="223" height="703"/><path d="M0,23H223M0,63H223"/><text class="h" x="111.5" y="16">Arccore::String</text>
<text class="t" y="23"><tspan x="11" dy="14.5">-</tspan><tspan x="24">m_const_ptr</tspan><tspan x="11" dy="20">-</tspan><tspan x="24">m_const_ptr_size</tspan></text>
<text class="t" y="63"><tspan x="11" dy="14.5">+</tspan><tspan x="24">String()</tspan><tspan x="11" dy="20">+</tspan><tspan x="24">String()</tspan><tspan x="11" dy="20">+</tspan><tspan x="24">String()</tspan><tspan x="11" dy="20">+</tspan><tspan x="24">String()</tspan><tspan x="11" dy="20">+</tspan><tspan x="24">String()</tspan><tspan x="11" dy="20">+</tspan><tspan x="24">String()</tspan><tspan x="11" dy="20">+</tspan><tspan x="24">String()</tspan><tspan x="11" dy="20">+</tspan><tspan x="24">String()</tspan><tspan x="11" dy="20">+</tspan><tspan x="24">String()</tspan><tspan x="11" dy="20">+</tspan><tspan x="24">String()</tspan><tspan x="24" dy="20">et 46 de plus...</tspan><tspan x="11" dy="20">+</tspan><tspan x="24">fromUtf8()</tspan><tspan x="11" dy="20">+</tspan><tspan x="24">replaceWhiteSpace()</tspan><tspan x="11" dy="20">+</tspan><tspan x="24">collapseWhiteSpace()</tspan><tspan x="11" dy="20">+</tspan><tspan x="24">fromNumber()</tspan><tspan x="11" dy="20">+</tspan><tspan x="24">fromNumber()</tspan><tspan x="11" dy="20">+</tspan><tspan x="24">fromNumber()</tspan><tspan x="11" dy="20">+</tspan><tspan x="24">fromNumber()</tspan><tspan x="11" dy="20">+</tspan><tspan x="24">fromNumber()</tspan><tspan x="11" dy="20">+</tspan><tspan x="24">fromNumber()</tspan><tspan x="11" dy="20">+</tspan><tspan x="24">fromNumber()</tspan><tspan x="24" dy="20">et 20 de plus...</tspan><tspan x="11" dy="20">-</tspan><tspan x="24">_checkClone()</tspan><tspan x="11" dy="20">-</tspan><tspan x="24">isLess()</tspan><tspan x="11" dy="20">-</tspan><tspan x="24">_append()</tspan><tspan x="11" dy="20">-</tspan><tspan x="24">_viewFromConstChar()</tspan><tspan x="11" dy="20">-</tspan><tspan x="24">_removeReference()</tspan><tspan x="11" dy="20">-</tspan><tspan x="24">_internalUtf16BE()</tspan><tspan x="11" dy="20">-</tspan><tspan x="24">_resetFields()</tspan><tspan x="11" dy="20">-</tspan><tspan x="24">_copyFields()</tspan><tspan x="11" dy="20">-</tspan><tspan x="24">_removeReferenceIfNeeded()</tspan><tspan x="11" dy="20">-</tspan><tspan x="24">_removeImplReference()</tspan></text></g>

<g id="n_iitemfamily" class="nb" transform="translate(693,1709)"><rect width="214" height="1503"/><path d="M0,23H214M0,43H214"/><text class="h" x="107" y="16">Arcane::IItemFamily</text>
<text class="t" y="43"><tspan x="12" dy="14.5">+</tspan><tspan x="24">~IItemFamily()</tspan><tspan x="12" dy="20">+</tspan><tspan x="24">build()</tspan><tspan x="12" dy="20">+</tspan><tspan x="24">name()</tspan><tspan x="12" dy="20">+</tspan><tspan x="24">fullName()</tspan><tspan x="12" dy="20">+</tspan><tspan x="24">itemKind()</tspan><tspan x="12" dy="20">+</tspan><tspan x="24">nbItem()</tspan><tspan x="12" dy="20">+</tspan><tspan x="24">maxLocalId()</tspan><tspan x="12" dy="20">+</tspan><tspan x="24">itemsInternal()</tspan><tspan x="12" dy="20">+</tspan><tspan x="24">itemInfoListView()</tspan><tspan x="12" dy="20">+</tspan><tspan x="24">parentFamily()</tspan><tspan x="24" dy="20">et 33 de plus...</tspan><tspan x="12" dy="20">+</tspan><tspan x="24">findGroup()</tspan><tspan x="12" dy="20">+</tspan><tspan x="24">findGroup()</tspan><tspan x="12" dy="20">+</tspan><tspan x="24">createGroup()</tspan><tspan x="12" dy="20">+</tspan><tspan x="24">createGroup()</tspan><tspan x="12" dy="20">+</tspan><tspan x="24">destroyGroups()</tspan><tspan x="12" dy="20">+</tspan><tspan x="24">createGroup()</tspan><tspan x="12" dy="20">+</tspan><tspan x="24">findVariable()</tspan><tspan x="12" dy="20">+</tspan><tspan x="24">usedVariables()</tspan><tspan x="12" dy="20">+</tspan><tspan x="24">prepareForDump()</tspan><tspan x="12" dy="20">+</tspan><tspan x="24">readFromDump()</tspan><tspan x="24" dy="20">et 6 de plus...</tspan><tspan x="12" dy="20">+</tspan><tspan x="24">allItemsSynchronizer()</tspan><tspan x="12" dy="20">+</tspan><tspan x="24">synchronize()</tspan><tspan x="12" dy="20">+</tspan><tspan x="24">synchronize()</tspan><tspan x="12" dy="20">+</tspan><tspan x="24">reduceFromGhostItems()</tspan><tspan x="12" dy="20">+</tspan><tspan x="24">reduceFromGhostItems()</tspan><tspan x="12" dy="20">+</tspan><tspan x="24">findAdjencyItems()</tspan><tspan x="12" dy="20">+</tspan><tspan x="24">toParticleFamily()</tspan><tspan x="12" dy="20">+</tspan><tspan x="24">toDoFFamily()</tspan><tspan x="12" dy="20">+</tspan><tspan x="24">internalRemoveItems()</tspan><tspan x="12" dy="20">+</tspan><tspan x="24">addSourceConnectivity()</tspan><tspan x="12" dy="20">+</tspan><tspan x="24">addTargetConnectivity()</tspan><tspan x="12" dy="20">+</tspan><tspan x="24">removeSourceConnectivity()</tspan><tspan x="12" dy="20">+</tspan><tspan x="24">removeTargetConnectivity()</tspan><tspan x="12" dy="20">+</tspan><tspan x="24">setConnectivityMng()</tspan><tspan x="12" dy="20">+</tspan><tspan x="24">addGhostItems()</tspan><tspan x="12" dy="20">+</tspan><tspan x="24">policyMng()</tspan><tspan x="12" dy="20">+</tspan><tspan x="24">properties()</tspan><tspan x="12" dy="20">+</tspan><tspan x="24">resizeVariables()</tspan><tspan x="12" dy="20">+</tspan><tspan x="24">_topologyModifier()</tspan><tspan x="12" dy="20">+</tspan><tspan x="24">_internalApi()</tspan><tspan x="12" dy="20">*</tspan><tspan x="24">findGroup()</tspan><tspan x="12" dy="20">*</tspan><tspan x="24">findGroup()</tspan><tspan x="12" dy="20">*</tspan><tspan x="24">createGroup()</tspan><tspan x="12" dy="20">*</tspan><tspan x="24">createGroup()</tspan><tspan x="12" dy="20">*</tspan><tspan x="24">destroyGroups()</tspan><tspan x="12" dy="20">*</tspan><tspan x="24">createGroup()</tspan><tspan x="12" dy="20">*</tspan><tspan x="24">findVariable()</tspan><tspan x="12" dy="20">*</tspan><tspan x="24">usedVariables()</tspan><tspan x="12" dy="20">*</tspan><tspan x="24">prepareForDump()</tspan><tspan x="12" dy="20">*</tspan><tspan x="24">readFromDump()</tspan><tspan x="24" dy="20">et 6 de plus...</tspan><tspan x="12" dy="20">*</tspan><tspan x="24">allItemsSynchronizer()</tspan><tspan x="12" dy="20">*</tspan><tspan x="24">synchronize()</tspan><tspan x="12" dy="20">*</tspan><tspan x="24">synchronize()</tspan><tspan x="12" dy="20">*</tspan><tspan x="24">reduceFromGhostItems()</tspan><tspan x="12" dy="20">*</tspan><tspan x="24">reduceFromGhostItems()</tspan><tspan x="12" dy="20">*</tspan><tspan x="24">findAdjencyItems()</tspan><tspan x="12" dy="20">*</tspan><tspan x="24">toParticleFamily()</tspan><tspan x="12" dy="20">*</tspan><tspan x="24">toDoFFamily()</tspan><tspan x="12" dy="20">*</tspan><tspan x="24">internalRemoveItems()</tspan><tspan x="12" dy="20">*</tspan><tspan x="24">addSourceConnectivity()</tspan><tspan x="12" dy="20">*</tspan><tspan x="24">addTargetConnectivity()</tspan><tspan x="12" dy="20">*</tspan><tspan x="24">removeSourceConnectivity()</tspan><tspan x="12" dy="20">*</tspan><tspan x="24">removeTargetConnectivity()</tspan><tspan x="12" dy="20">*</tspan><tspan x="24">setConnectivityMng()</tspan><tspan x="12" dy="20">*</tspan><tspan x="24">addGhostItems()</tspan><tspan x="12" dy="20">*</tspan><tspan x="24">policyMng()</tspan><tspan x="12" dy="20">*</tspan><tspan x="24">properties()</tspan><tspan x="12" dy="20">*</tspan><tspan x="24">resizeVariables()</tspan><tspan x="12" dy="20">*</tspan><tspan x="24">_topologyModifier()</tspan><tspan x="12" dy="20">*</tspan><tspan x="24">_internalApi()</tspan></text></g>

<g id="n_int32" class="ng" transform="translate(459,1261)"><rect width="47" height="66"/><path d="M0,23H47M0,43H47"/><text class="h" x="23.5" y="16">Int32</text></g>

<g id="n_int32view" class="nb" transform="translate(5,2367)"><rect width="229" height="188"/><path d="M0,38H229M0,58H229"/><text class="h" x="114.5" y="16">Arcane::ItemInternalConnectivity<tspan x="114.5" dy="15">List::Int32View</tspan></text>
<text class="t" y="38"><tspan x="20" dy="14.5">-</tspan><tspan x="42">m_size</tspan></text>
<text class="t" y="58"><tspan x="20" dy="14.5">+</tspan><tspan x="42">operator[]()</tspan><tspan x="20" dy="20">+</tspan><tspan x="42">operator=()</tspan><tspan x="20" dy="20">+</tspan><tspan x="42">setNull()</tspan><tspan x="20" dy="20">+</tspan><tspan x="42">operator ConstArrayView</tspan><tspan x="42" dy="15">&lt; Int32 &gt;()</tspan><tspan x="20" dy="20">+</tspan><tspan x="42">operator SmallSpan</tspan><tspan x="42" dy="15">&lt; const Int32 &gt;()</tspan></text></g>

<g id="n_constarrayview_int32" class="nb" transform="translate(259,2302)"><rect width="175" height="318"/><path d="M0,38H175M0,58H175"/><text class="h" x="87.5" y="16">Arccore::ConstArrayView<tspan x="87.5" dy="15">&lt; Int32 &gt;</tspan></text>
<text class="t" y="38"><tspan x="18" dy="14.5">-</tspan><tspan x="40">m_ptr</tspan></text>
<text class="t" y="58"><tspan x="18" dy="14.5">+</tspan><tspan x="40">ConstArrayView()</tspan><tspan x="18" dy="20">+</tspan><tspan x="40">ConstArrayView()</tspan><tspan x="18" dy="20">+</tspan><tspan x="40">ConstArrayView()</tspan><tspan x="18" dy="20">+</tspan><tspan x="40">ConstArrayView()</tspan><tspan x="18" dy="20">+</tspan><tspan x="40">ConstArrayView()</tspan><tspan x="18" dy="20">+</tspan><tspan x="40">operator=()</tspan><tspan x="18" dy="20">+</tspan><tspan x="40">operator=()</tspan><tspan x="18" dy="20">+</tspan><tspan x="40">operator=()</tspan><tspan x="18" dy="20">+</tspan><tspan x="40">subView()</tspan><tspan x="18" dy="20">+</tspan><tspan x="40">subPart()</tspan><tspan x="40" dy="20">et 19 de plus...</tspan><tspan x="18" dy="20">+</tspan><tspan x="40">create()</tspan><tspan x="18" dy="20">-</tspan><tspan x="40">_min()</tspan></text></g>

<g id="n_arrayview_int32" class="nb" transform="translate(932,2253)"><rect width="138" height="418"/><path d="M0,38H138M0,58H138"/><text class="h" x="69" y="16">Arccore::ArrayView<tspan x="69" dy="15">&lt; Int32 &gt;</tspan></text>
<text class="t" y="38"><tspan x="13" dy="14.5">-</tspan><tspan x="29">m_ptr</tspan></text>
<text class="t" y="58"><tspan x="13" dy="14.5">+</tspan><tspan x="29">ArrayView()</tspan><tspan x="13" dy="20">+</tspan><tspan x="29">ArrayView()</tspan><tspan x="13" dy="20">+</tspan><tspan x="29">ArrayView()</tspan><tspan x="13" dy="20">+</tspan><tspan x="29">ArrayView()</tspan><tspan x="13" dy="20">+</tspan><tspan x="29">operator=()</tspan><tspan x="13" dy="20">+</tspan><tspan x="29">operator=()</tspan><tspan x="13" dy="20">+</tspan><tspan x="29">operator[]()</tspan><tspan x="13" dy="20">+</tspan><tspan x="29">operator[]()</tspan><tspan x="13" dy="20">+</tspan><tspan x="29">operator()()</tspan><tspan x="13" dy="20">+</tspan><tspan x="29">operator()()</tspan><tspan x="29" dy="20">et 33 de plus...</tspan><tspan x="13" dy="20">+</tspan><tspan x="29">create()</tspan><tspan x="13" dy="20">#</tspan><tspan x="29">_ptr()</tspan><tspan x="13" dy="20">#</tspan><tspan x="29">_ptr()</tspan><tspan x="13" dy="20">#</tspan><tspan x="29">_setArray()</tspan><tspan x="13" dy="20">#</tspan><tspan x="29">_setPtr()</tspan><tspan x="13" dy="20">#</tspan><tspan x="29">_setSize()</tspan><tspan x="13" dy="20">-</tspan><tspan x="29">_min()</tspan></text></g>

<g id="n_constarrayview_iteminternal" class="nb" transform="translate(1097,3294)"><rect width="173" height="318"/><path d="M0,38H173M0,58H173"/><text class="h" x="86.5" y="16">Arccore::ConstArrayView<tspan x="86.5" dy="15">&lt; ItemInternal * &gt;</tspan></text>
<text class="t" y="38"><tspan x="19" dy="14.5">-</tspan><tspan x="39">m_ptr</tspan></text>
<text class="t" y="58"><tspan x="19" dy="14.5">+</tspan><tspan x="39">ConstArrayView()</tspan><tspan x="19" dy="20">+</tspan><tspan x="39">ConstArrayView()</tspan><tspan x="19" dy="20">+</tspan><tspan x="39">ConstArrayView()</tspan><tspan x="19" dy="20">+</tspan><tspan x="39">ConstArrayView()</tspan><tspan x="19" dy="20">+</tspan><tspan x="39">ConstArrayView()</tspan><tspan x="19" dy="20">+</tspan><tspan x="39">operator=()</tspan><tspan x="19" dy="20">+</tspan><tspan x="39">operator=()</tspan><tspan x="19" dy="20">+</tspan><tspan x="39">operator=()</tspan><tspan x="19" dy="20">+</tspan><tspan x="39">subView()</tspan><tspan x="19" dy="20">+</tspan><tspan x="39">subPart()</tspan><tspan x="39" dy="20">et 19 de plus...</tspan><tspan x="19" dy="20">+</tspan><tspan x="39">create()</tspan><tspan x="19" dy="20">-</tspan><tspan x="39">_min()</tspan></text></g>

<g id="n_itemsharedinfo" class="nr" transform="translate(399,3763)"><rect width="167" height="563"/><path d="M0,23H167M0,63H167"/><text class="h" x="83.5" y="16">Arcane::ItemSharedInfo</text>
<text class="t" y="23"><tspan x="15" dy="14.5">-</tspan><tspan x="32">m_item_kind</tspan><tspan x="15" dy="20">-</tspan><tspan x="32">m_nb_parent</tspan></text>
<text class="t" y="63"><tspan x="15" dy="14.5">+</tspan><tspan x="32">ItemSharedInfo()</tspan><tspan x="15" dy="20">+</tspan><tspan x="32">itemKind()</tspan><tspan x="15" dy="20">+</tspan><tspan x="32">itemFamily()</tspan><tspan x="15" dy="20">+</tspan><tspan x="32">nbParent()</tspan><tspan x="15" dy="20">+</tspan><tspan x="32">typeInfoFromId()</tspan><tspan x="15" dy="20">+</tspan><tspan x="32">nbNode()</tspan><tspan x="15" dy="20">+</tspan><tspan x="32">nbEdge()</tspan><tspan x="15" dy="20">+</tspan><tspan x="32">nbFace()</tspan><tspan x="15" dy="20">+</tspan><tspan x="32">nbCell()</tspan><tspan x="15" dy="20">+</tspan><tspan x="32">nbHParent()</tspan><tspan x="32" dy="20">et 51 de plus...</tspan><tspan x="15" dy="20">+</tspan><tspan x="32">nullInstance()</tspan><tspan x="15" dy="20">-</tspan><tspan x="32">ItemSharedInfo()</tspan><tspan x="15" dy="20">-</tspan><tspan x="32">_parentV2()</tspan><tspan x="15" dy="20">-</tspan><tspan x="32">_parentLocalIdV2()</tspan><tspan x="15" dy="20">-</tspan><tspan x="32">_setParentV2()</tspan><tspan x="15" dy="20">-</tspan><tspan x="32">_parentPtr()</tspan><tspan x="15" dy="20">-</tspan><tspan x="32">_ownerV2()</tspan><tspan x="15" dy="20">-</tspan><tspan x="32">_setOwnerV2()</tspan><tspan x="15" dy="20">-</tspan><tspan x="32">_flagsV2()</tspan><tspan x="15" dy="20">-</tspan><tspan x="32">_setFlagsV2()</tspan><tspan x="15" dy="20">-</tspan><tspan x="32">_typeId()</tspan><tspan x="15" dy="20">-</tspan><tspan x="32">_setTypeId()</tspan><tspan x="15" dy="20">-</tspan><tspan x="32">_init()</tspan><tspan x="15" dy="20">-</tspan><tspan x="32">_parent()</tspan></text></g>

<g id="n_imesh" class="nr" transform="translate(790,3692)"><rect width="248" height="703"/><path d="M0,23H248M0,43H248"/><text class="h" x="124" y="16">Arcane::IMesh</text>
<text class="t" y="43"><tspan x="11" dy="14.5">+</tspan><tspan x="23">~IMesh()</tspan><tspan x="11" dy="20">+</tspan><tspan x="23">build()</tspan><tspan x="11" dy="20">+</tspan><tspan x="23">factoryName()</tspan><tspan x="11" dy="20">+</tspan><tspan x="23">itemsInternal()</tspan><tspan x="11" dy="20">+</tspan><tspan x="23">sharedNodesCoordinates()</tspan><tspan x="11" dy="20">+</tspan><tspan x="23">checkValidMesh()</tspan><tspan x="11" dy="20">+</tspan><tspan x="23">checkValidMeshFull()</tspan><tspan x="11" dy="20">+</tspan><tspan x="23">synchronizeGroupsAndVariables()</tspan><tspan x="11" dy="20">+</tspan><tspan x="23">isAllocated()</tspan><tspan x="11" dy="20">+</tspan><tspan x="23">timestamp()</tspan><tspan x="23" dy="20">et 23 de plus...</tspan><tspan x="11" dy="20">+</tspan><tspan x="23">computeTiedInterfaces()</tspan><tspan x="11" dy="20">+</tspan><tspan x="23">hasTiedInterface()</tspan><tspan x="11" dy="20">+</tspan><tspan x="23">tiedInterfaces()</tspan><tspan x="11" dy="20">+</tspan><tspan x="23">partitionConstraintMng()</tspan><tspan x="11" dy="20">+</tspan><tspan x="23">utilities()</tspan><tspan x="11" dy="20">+</tspan><tspan x="23">properties()</tspan><tspan x="11" dy="20">+</tspan><tspan x="23">modifier()</tspan><tspan x="11" dy="20">+</tspan><tspan x="23">nodesCoordinates()</tspan><tspan x="11" dy="20">+</tspan><tspan x="23">defineParentForBuild()</tspan><tspan x="11" dy="20">+</tspan><tspan x="23">parentMesh()</tspan><tspan x="23" dy="20">et 23 de plus...</tspan><tspan x="11" dy="20">*</tspan><tspan x="23">computeTiedInterfaces()</tspan><tspan x="11" dy="20">*</tspan><tspan x="23">hasTiedInterface()</tspan><tspan x="11" dy="20">*</tspan><tspan x="23">tiedInterfaces()</tspan><tspan x="11" dy="20">*</tspan><tspan x="23">partitionConstraintMng()</tspan><tspan x="11" dy="20">*</tspan><tspan x="23">utilities()</tspan><tspan x="11" dy="20">*</tspan><tspan x="23">properties()</tspan><tspan x="11" dy="20">*</tspan><tspan x="23">modifier()</tspan><tspan x="11" dy="20">*</tspan><tspan x="23">nodesCoordinates()</tspan><tspan x="11" dy="20">*</tspan><tspan x="23">defineParentForBuild()</tspan><tspan x="11" dy="20">*</tspan><tspan x="23">parentMesh()</tspan><tspan x="23" dy="20">et 23 de plus...</tspan></text></g>

<g id="n_meshiteminternallist" class="nb" transform="translate(815,4897)"><rect width="214" height="143"/><path d="M0,23H214M0,43H214"/><text class="h" x="107" y="16">Arcane::MeshItemInternalList</text>
<text class="t" y="43"><tspan x="8" dy="14.5">-</tspan><tspan x="17">_internalSetNodeSharedInfo()</tspan><tspan x="8" dy="20">-</tspan><tspan x="17">_internalSetEdgeSharedInfo()</tspan><tspan x="8" dy="20">-</tspan><tspan x="17">_internalSetFaceSharedInfo()</tspan><tspan x="8" dy="20">-</tspan><tspan x="17">_internalSetCellSharedInfo()</tspan><tspan x="8" dy="20">-</tspan><tspan x="17">_notifyUpdate()</tspan></text></g>

<g id="n_kindinfo" class="ng" transform="translate(561,4920)"><rect width="230" height="98"/><path d="M0,38H230M0,78H230"/><text class="h" x="115" y="16">Arcane::ItemInternalConnectivity<tspan x="115" dy="15">List::KindInfo</tspan></text>
<text class="t" y="38"><tspan x="25" dy="14.5">+</tspan><tspan x="52">m_max_nb_item</tspan><tspan x="25" dy="20">+</tspan><tspan x="52">m_nb_item_null_data</tspan></text></g>

<g id="n_iiclcontainer" class="nb" transform="translate(95,3965)"><rect width="229" height="158"/><path d="M0,38H229M0,58H229"/><text class="h" x="114.5" y="16">Arcane::ItemInternalConnectivity<tspan x="114.5" dy="15">List::Container</tspan></text>
<text class="t" y="58"><tspan x="25" dy="14.5">+</tspan><tspan x="52">itemLocalIdListView()</tspan><tspan x="25" dy="20">+</tspan><tspan x="52">itemLocalIdsData()</tspan><tspan x="25" dy="20">+</tspan><tspan x="52">itemLocalId()</tspan><tspan x="25" dy="20">+</tspan><tspan x="52">containerView()</tspan><tspan x="25" dy="20">+</tspan><tspan x="52">itemOffset()</tspan></text></g>

<g id="n_iteminternalconnectivitylist" class="nb" transform="translate(550,5337)"><rect width="252" height="498"/><path d="M0,23H252M0,43H252"/><text class="h" x="126" y="16">Arcane::ItemInternalConnectivityList</text>
<text class="t" y="43"><tspan x="17" dy="14.5">+</tspan><tspan x="38">ItemInternalConnectivity</tspan><tspan x="38" dy="15">List()</tspan><tspan x="17" dy="20">+</tspan><tspan x="38">updateMeshItemInternalList()</tspan><tspan x="17" dy="20">+</tspan><tspan x="38">connectivityIndex()</tspan><tspan x="17" dy="20">+</tspan><tspan x="38">connectivityList()</tspan><tspan x="17" dy="20">+</tspan><tspan x="38">connectivityNbItem()</tspan><tspan x="17" dy="20">+</tspan><tspan x="38">maxNbConnectedItem()</tspan><tspan x="17" dy="20">+</tspan><tspan x="38">containerView()</tspan><tspan x="17" dy="20">+</tspan><tspan x="38">nodeBase()</tspan><tspan x="17" dy="20">+</tspan><tspan x="38">edgeBase()</tspan><tspan x="17" dy="20">+</tspan><tspan x="38">faceBase()</tspan><tspan x="38" dy="20">et 7 de plus...</tspan><tspan x="17" dy="20">-</tspan><tspan x="38">itemLocalId()</tspan><tspan x="17" dy="20">-</tspan><tspan x="38">nbAccess()</tspan><tspan x="17" dy="20">-</tspan><tspan x="38">nbAccessAll()</tspan><tspan x="17" dy="20">-</tspan><tspan x="38">_setConnectivityIndex()</tspan><tspan x="17" dy="20">-</tspan><tspan x="38">_setConnectivityList()</tspan><tspan x="17" dy="20">-</tspan><tspan x="38">_setConnectivityNbItem()</tspan><tspan x="17" dy="20">-</tspan><tspan x="38">_setMaxNbConnectedItem()</tspan><tspan x="17" dy="20">-</tspan><tspan x="38">nodesV2()</tspan><tspan x="17" dy="20">-</tspan><tspan x="38">edgesV2()</tspan><tspan x="17" dy="20">-</tspan><tspan x="38">facesV2()</tspan><tspan x="38" dy="20">et 29 de plus...</tspan></text></g>

<g id="n_igraphconnectivity" class="nb" transform="translate(132,6805)"><rect width="192" height="123"/><path d="M0,23H192M0,43H192"/><text class="h" x="96" y="16">Arcane::IGraphConnectivity</text>
<text class="t" y="43"><tspan x="14" dy="14.5">+</tspan><tspan x="30">~IGraphConnectivity()</tspan><tspan x="14" dy="20">+</tspan><tspan x="30">dualItem()</tspan><tspan x="14" dy="20">+</tspan><tspan x="30">links()</tspan><tspan x="14" dy="20">+</tspan><tspan x="30">dualNodes()</tspan></text></g>

<g id="n_list_iobserver" class="no" transform="translate(1213,3874)"><rect width="150" height="338"/><path d="M0,38H150M0,58H150"/><text class="h" x="75" y="16">Arcane::List&lt; Arcane<tspan x="75" dy="15">::IObserver * &gt;</tspan></text>
<text class="t" y="58"><tspan x="19" dy="14.5">+</tspan><tspan x="40">List()</tspan><tspan x="19" dy="20">+</tspan><tspan x="40">List()</tspan><tspan x="19" dy="20">+</tspan><tspan x="40">List()</tspan><tspan x="19" dy="20">+</tspan><tspan x="40">List()</tspan><tspan x="19" dy="20">+</tspan><tspan x="40">resize()</tspan><tspan x="19" dy="20">+</tspan><tspan x="40">operator[]()</tspan><tspan x="19" dy="20">+</tspan><tspan x="40">operator[]()</tspan><tspan x="19" dy="20">+</tspan><tspan x="40">clone()</tspan><tspan x="19" dy="20">+</tspan><tspan x="40">clone()</tspan><tspan x="19" dy="20">+</tspan><tspan x="40">begin()</tspan><tspan x="40" dy="20">et 6 de plus...</tspan><tspan x="19" dy="20">#</tspan><tspan x="40">List()</tspan><tspan x="19" dy="20">-</tspan><tspan x="40">_cast()</tspan><tspan x="19" dy="20">-</tspan><tspan x="40">_cast()</tspan></text></g>

<g id="n_variablearrayt" class="nr" transform="translate(1388,3862)"><rect width="214" height="363"/><path d="M0,23H214M0,43H214"/><text class="h" x="107" y="16">Arcane::VariableArrayT&lt; T &gt;</text>
<text class="t" y="43"><tspan x="11" dy="14.5">+</tspan><tspan x="24">~VariableArrayT()</tspan><tspan x="11" dy="20">+</tspan><tspan x="24">checkIfSame()</tspan><tspan x="11" dy="20">+</tspan><tspan x="24">synchronize()</tspan><tspan x="11" dy="20">+</tspan><tspan x="24">synchronize()</tspan><tspan x="11" dy="20">+</tspan><tspan x="24">resizeWithReserve()</tspan><tspan x="11" dy="20">+</tspan><tspan x="24">allocatedMemory()</tspan><tspan x="11" dy="20">+</tspan><tspan x="24">checkIfSync()</tspan><tspan x="11" dy="20">+</tspan><tspan x="24">initialize()</tspan><tspan x="11" dy="20">+</tspan><tspan x="24">nbElement()</tspan><tspan x="11" dy="20">+</tspan><tspan x="24">value()</tspan><tspan x="24" dy="20">et 19 de plus...</tspan><tspan x="11" dy="20">+</tspan><tspan x="24">getReference()</tspan><tspan x="11" dy="20">+</tspan><tspan x="24">getReference()</tspan><tspan x="11" dy="20">#</tspan><tspan x="24">VariableArrayT()</tspan><tspan x="11" dy="20">#</tspan><tspan x="24">_internalResize()</tspan><tspan x="11" dy="20">#</tspan><tspan x="24">_checkIfSameOnAllReplica()</tspan></text></g>

<g id="n_variablefactoryregisterer" class="nr" transform="translate(1626,3892)"><rect width="234" height="303"/><path d="M0,23H234M0,43H234"/><text class="h" x="117" y="16">Arcane::VariableFactoryRegisterer</text>
<text class="t" y="23"><tspan x="14" dy="14.5">-</tspan><tspan x="31">m_function</tspan></text>
<text class="t" y="43"><tspan x="14" dy="14.5">+</tspan><tspan x="31">VariableFactoryRegisterer()</tspan><tspan x="14" dy="20">+</tspan><tspan x="31">createFactory()</tspan><tspan x="14" dy="20">+</tspan><tspan x="31">previousVariableFactory()</tspan><tspan x="14" dy="20">+</tspan><tspan x="31">nextVariableFactory()</tspan><tspan x="14" dy="20">+</tspan><tspan x="31">itemKind()</tspan><tspan x="14" dy="20">+</tspan><tspan x="31">dataType()</tspan><tspan x="14" dy="20">+</tspan><tspan x="31">dimension()</tspan><tspan x="14" dy="20">+</tspan><tspan x="31">multiTag()</tspan><tspan x="14" dy="20">+</tspan><tspan x="31">isPartial()</tspan><tspan x="14" dy="20">+</tspan><tspan x="31">variableTypeInfo()</tspan><tspan x="14" dy="20">+</tspan><tspan x="31">setPreviousVariableFactory()</tspan><tspan x="14" dy="20">+</tspan><tspan x="31">setNextVariableFactory()</tspan><tspan x="14" dy="20">+</tspan><tspan x="31">firstVariableFactory()</tspan></text></g>

<g id="n_arrayview_t" class="nb" transform="translate(1989,3833)"><rect width="176" height="423"/><path d="M0,23H176M0,63H176"/><text class="h" x="88" y="16">Arccore::ArrayView&lt; T &gt;</text>
<text class="t" y="23"><tspan x="24" dy="14.5">-</tspan><tspan x="48">m_size</tspan><tspan x="24" dy="20">-</tspan><tspan x="48">m_ptr</tspan></text>
<text class="t" y="63"><tspan x="24" dy="14.5">+</tspan><tspan x="48">ArrayView()</tspan><tspan x="24" dy="20">+</tspan><tspan x="48">ArrayView()</tspan><tspan x="24" dy="20">+</tspan><tspan x="48">ArrayView()</tspan><tspan x="24" dy="20">+</tspan><tspan x="48">ArrayView()</tspan><tspan x="24" dy="20">+</tspan><tspan x="48">operator=()</tspan><tspan x="24" dy="20">+</tspan><tspan x="48">operator=()</tspan><tspan x="24" dy="20">+</tspan><tspan x="48">operator[]()</tspan><tspan x="24" dy="20">+</tspan><tspan x="48">operator[]()</tspan><tspan x="24" dy="20">+</tspan><tspan x="48">operator()()</tspan><tspan x="24" dy="20">+</tspan><tspan x="48">operator()()</tspan><tspan x="48" dy="20">et 33 de plus...</tspan><tspan x="24" dy="20">+</tspan><tspan x="48">create()</tspan><tspan x="24" dy="20">#</tspan><tspan x="48">_ptr()</tspan><tspan x="24" dy="20">#</tspan><tspan x="48">_ptr()</tspan><tspan x="24" dy="20">#</tspan><tspan x="48">_setArray()</tspan><tspan x="24" dy="20">#</tspan><tspan x="48">_setPtr()</tspan><tspan x="24" dy="20">#</tspan><tspan x="48">_setSize()</tspan><tspan x="24" dy="20">-</tspan><tspan x="48">_min()</tspan></text></g>

<g id="n_variableref" class="nr" transform="translate(2190,3744)"><rect width="198" height="598"/><path d="M0,23H198M0,43H198"/><text class="h" x="99" y="16">Arcane::VariableRef</text>
<text class="t" y="43"><tspan x="12" dy="14.5">+</tspan><tspan x="24">~VariableRef()</tspan><tspan x="12" dy="20">+</tspan><tspan x="24">subDomain()</tspan><tspan x="12" dy="20">+</tspan><tspan x="24">variableMng()</tspan><tspan x="12" dy="20">+</tspan><tspan x="24">name()</tspan><tspan x="12" dy="20">+</tspan><tspan x="24">dataType()</tspan><tspan x="12" dy="20">+</tspan><tspan x="24">print()</tspan><tspan x="12" dy="20">+</tspan><tspan x="24">module()</tspan><tspan x="12" dy="20">+</tspan><tspan x="24">property()</tspan><tspan x="12" dy="20">+</tspan><tspan x="24">referenceProperty()</tspan><tspan x="12" dy="20">+</tspan><tspan x="24">setProperty()</tspan><tspan x="24" dy="20">et 16 de plus...</tspan><tspan x="12" dy="20">#</tspan><tspan x="24">VariableRef()</tspan><tspan x="12" dy="20">#</tspan><tspan x="24">VariableRef()</tspan><tspan x="12" dy="20">#</tspan><tspan x="24">VariableRef()</tspan><tspan x="12" dy="20">#</tspan><tspan x="24">operator=()</tspan><tspan x="12" dy="20">#</tspan><tspan x="24">VariableRef()</tspan><tspan x="12" dy="20">*</tspan><tspan x="24">m_is_registered</tspan><tspan x="12" dy="20">*</tspan><tspan x="24">m_reference_property</tspan><tspan x="12" dy="20">*</tspan><tspan x="24">m_has_trace</tspan><tspan x="12" dy="20">*</tspan><tspan x="24">m_static_has_trace</tspan><tspan x="24" dy="15">_creation</tspan><tspan x="12" dy="20">*</tspan><tspan x="24">_setComputeFunction()</tspan><tspan x="12" dy="20">*</tspan><tspan x="24">_internalInit()</tspan><tspan x="12" dy="20">*</tspan><tspan x="24">_variable()</tspan><tspan x="12" dy="20">*</tspan><tspan x="24">_executeUpdateFunctors()</tspan><tspan x="12" dy="20">*</tspan><tspan x="24">_internalAssignVariable()</tspan><tspan x="12" dy="20">*</tspan><tspan x="24">update()</tspan><tspan x="24" dy="20">et 19 de plus...</tspan></text></g>

<g id="n_variablerefarrayt" class="nb" transform="translate(1975,4760)"><rect width="204" height="418"/><path d="M0,38H204M0,58H204"/><text class="h" x="102" y="16">Arcane::VariableRefArray<tspan x="102" dy="15">T&lt; Int32 &gt;</tspan></text>
<text class="t" y="58"><tspan x="11" dy="14.5">+</tspan><tspan x="24">VariableRefArrayT()</tspan><tspan x="11" dy="20">+</tspan><tspan x="24">VariableRefArrayT()</tspan><tspan x="11" dy="20">+</tspan><tspan x="24">VariableRefArrayT()</tspan><tspan x="11" dy="20">+</tspan><tspan x="24">refersTo()</tspan><tspan x="11" dy="20">+</tspan><tspan x="24">~VariableRefArrayT()</tspan><tspan x="11" dy="20">+</tspan><tspan x="24">resize()</tspan><tspan x="11" dy="20">+</tspan><tspan x="24">resizeWithReserve()</tspan><tspan x="11" dy="20">+</tspan><tspan x="24">isArrayVariable()</tspan><tspan x="11" dy="20">+</tspan><tspan x="24">arraySize()</tspan><tspan x="11" dy="20">+</tspan><tspan x="24">updateFromInternal()</tspan><tspan x="11" dy="20">+</tspan><tspan x="24">asArray()</tspan><tspan x="11" dy="20">+</tspan><tspan x="24">asArray()</tspan><tspan x="11" dy="20">+</tspan><tspan x="24">lock()</tspan><tspan x="11" dy="20">+</tspan><tspan x="24">internalContainer()</tspan><tspan x="11" dy="20">+</tspan><tspan x="24">_internalTrueData()</tspan><tspan x="11" dy="20">+</tspan><tspan x="24">_internalVariableTypeInfo()</tspan><tspan x="11" dy="20">+</tspan><tspan x="24">_internalVariableInfo()</tspan><tspan x="11" dy="20">-</tspan><tspan x="24">_autoCreate()</tspan></text></g>

<g id="n_observerpool" class="nb" transform="translate(1535,4887)"><rect width="156" height="163"/><path d="M0,23H156M0,43H156"/><text class="h" x="78" y="16">Arcane::ObserverPool</text>
<text class="t" y="43"><tspan x="16" dy="14.5">+</tspan><tspan x="32">ObserverPool()</tspan><tspan x="16" dy="20">+</tspan><tspan x="32">~ObserverPool()</tspan><tspan x="16" dy="20">+</tspan><tspan x="32">addObserver()</tspan><tspan x="16" dy="20">+</tspan><tspan x="32">addObserver()</tspan><tspan x="16" dy="20">+</tspan><tspan x="32">observers()</tspan><tspan x="16" dy="20">+</tspan><tspan x="32">detachAll()</tspan></text></g>
</g>
</g>
</svg>
